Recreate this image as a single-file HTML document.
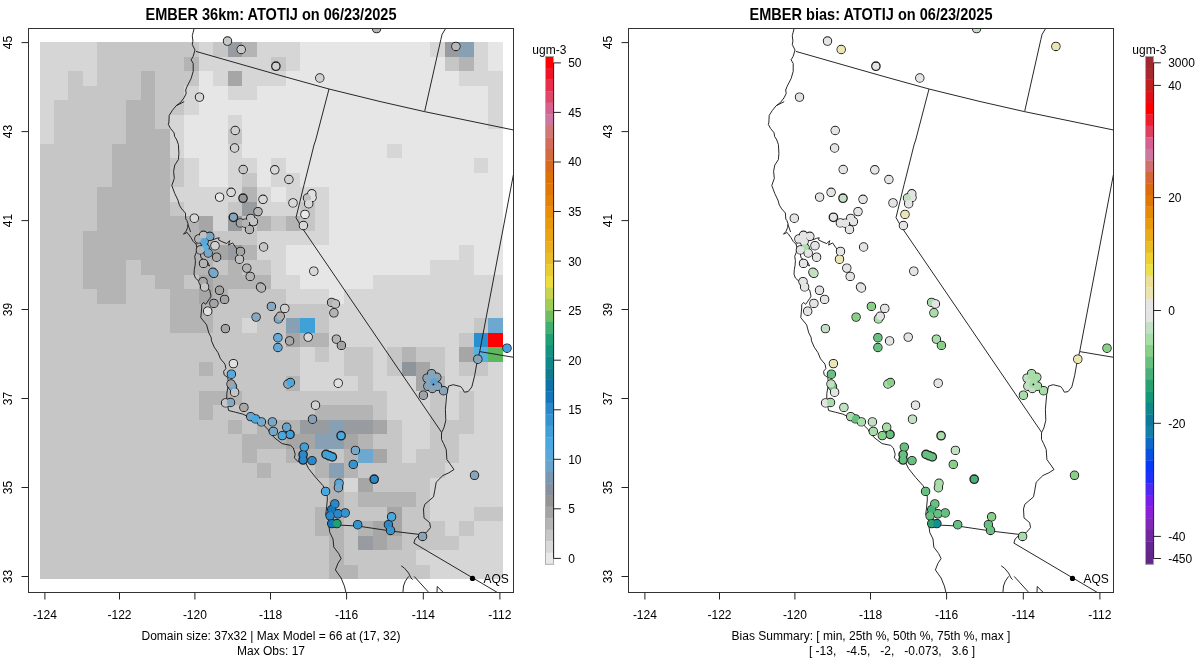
<!DOCTYPE html>
<html><head><meta charset="utf-8"><title>EMBER ATOTIJ</title>
<style>
html,body{margin:0;padding:0;background:#fff;width:1200px;height:672px;overflow:hidden}
svg{display:block}
text{font-family:"Liberation Sans",Arial,sans-serif;fill:#000}
.t{font-size:14.4px;font-weight:bold;text-anchor:middle}
.s{font-size:12px}
.k{stroke:#222;stroke-width:1}
.bx{fill:none;stroke:#333;stroke-width:1}
.m{fill:none;stroke:#1c1c1c;stroke-width:0.95;stroke-linejoin:round}
.c{stroke:#222;stroke-width:1.05}
.ct{stroke-width:1.6}
</style></head><body>
<svg width="1200" height="672" viewBox="0 0 1200 672">
<defs><clipPath id="pc"><rect x="28.5" y="28.5" width="485" height="564"/></clipPath></defs>
<rect width="1200" height="672" fill="#fff"/>
<g transform="translate(0,0)">
<text transform="translate(271,19.9) scale(1.01,1.09)" class="t">EMBER 36km: ATOTIJ on 06/23/2025</text>
<rect x="40" y="42" width="57" height="15" fill="#d6d6d6"/>
<rect x="97" y="42" width="102" height="15" fill="#c6c6c6"/>
<rect x="199" y="42" width="14" height="15" fill="#d6d6d6"/>
<rect x="213" y="42" width="15" height="15" fill="#c6c6c6"/>
<rect x="228" y="42" width="14" height="15" fill="#989ca0"/>
<rect x="242" y="42" width="15" height="15" fill="#b4b4b4"/>
<rect x="257" y="42" width="43" height="15" fill="#d6d6d6"/>
<rect x="300" y="42" width="130" height="15" fill="#e6e6e6"/>
<rect x="430" y="42" width="15" height="15" fill="#d6d6d6"/>
<rect x="445" y="42" width="14" height="15" fill="#989ca0"/>
<rect x="459" y="42" width="15" height="15" fill="#88a0b4"/>
<rect x="474" y="42" width="14" height="15" fill="#d6d6d6"/>
<rect x="488" y="42" width="15" height="15" fill="#e6e6e6"/>
<rect x="40" y="57" width="57" height="14" fill="#d6d6d6"/>
<rect x="97" y="57" width="87" height="14" fill="#c6c6c6"/>
<rect x="184" y="57" width="15" height="14" fill="#b4b4b4"/>
<rect x="199" y="57" width="72" height="14" fill="#d6d6d6"/>
<rect x="271" y="57" width="15" height="14" fill="#c6c6c6"/>
<rect x="286" y="57" width="14" height="14" fill="#d6d6d6"/>
<rect x="300" y="57" width="145" height="14" fill="#e6e6e6"/>
<rect x="445" y="57" width="14" height="14" fill="#c6c6c6"/>
<rect x="459" y="57" width="15" height="14" fill="#b4b4b4"/>
<rect x="474" y="57" width="14" height="14" fill="#d6d6d6"/>
<rect x="488" y="57" width="15" height="14" fill="#e6e6e6"/>
<rect x="40" y="71" width="28" height="15" fill="#d6d6d6"/>
<rect x="68" y="71" width="15" height="15" fill="#c6c6c6"/>
<rect x="83" y="71" width="14" height="15" fill="#d6d6d6"/>
<rect x="97" y="71" width="44" height="15" fill="#c6c6c6"/>
<rect x="141" y="71" width="14" height="15" fill="#b4b4b4"/>
<rect x="155" y="71" width="44" height="15" fill="#c6c6c6"/>
<rect x="199" y="71" width="14" height="15" fill="#e6e6e6"/>
<rect x="213" y="71" width="15" height="15" fill="#d6d6d6"/>
<rect x="228" y="71" width="14" height="15" fill="#a6a6a6"/>
<rect x="242" y="71" width="44" height="15" fill="#d6d6d6"/>
<rect x="286" y="71" width="173" height="15" fill="#e6e6e6"/>
<rect x="459" y="71" width="44" height="15" fill="#d6d6d6"/>
<rect x="40" y="86" width="28" height="14" fill="#d6d6d6"/>
<rect x="68" y="86" width="73" height="14" fill="#c6c6c6"/>
<rect x="141" y="86" width="14" height="14" fill="#b4b4b4"/>
<rect x="155" y="86" width="29" height="14" fill="#c6c6c6"/>
<rect x="184" y="86" width="15" height="14" fill="#d6d6d6"/>
<rect x="199" y="86" width="29" height="14" fill="#e6e6e6"/>
<rect x="228" y="86" width="29" height="14" fill="#d6d6d6"/>
<rect x="257" y="86" width="231" height="14" fill="#e6e6e6"/>
<rect x="488" y="86" width="15" height="14" fill="#d6d6d6"/>
<rect x="40" y="100" width="14" height="15" fill="#d6d6d6"/>
<rect x="54" y="100" width="72" height="15" fill="#c6c6c6"/>
<rect x="126" y="100" width="29" height="15" fill="#b4b4b4"/>
<rect x="155" y="100" width="29" height="15" fill="#c6c6c6"/>
<rect x="184" y="100" width="15" height="15" fill="#d6d6d6"/>
<rect x="199" y="100" width="289" height="15" fill="#e6e6e6"/>
<rect x="488" y="100" width="15" height="15" fill="#d6d6d6"/>
<rect x="40" y="115" width="14" height="14" fill="#d6d6d6"/>
<rect x="54" y="115" width="72" height="14" fill="#c6c6c6"/>
<rect x="126" y="115" width="29" height="14" fill="#b4b4b4"/>
<rect x="155" y="115" width="15" height="14" fill="#c6c6c6"/>
<rect x="170" y="115" width="14" height="14" fill="#d6d6d6"/>
<rect x="184" y="115" width="44" height="14" fill="#e6e6e6"/>
<rect x="228" y="115" width="14" height="14" fill="#d6d6d6"/>
<rect x="242" y="115" width="246" height="14" fill="#e6e6e6"/>
<rect x="488" y="115" width="15" height="14" fill="#d6d6d6"/>
<rect x="40" y="129" width="14" height="15" fill="#d6d6d6"/>
<rect x="54" y="129" width="72" height="15" fill="#c6c6c6"/>
<rect x="126" y="129" width="44" height="15" fill="#b4b4b4"/>
<rect x="170" y="129" width="14" height="15" fill="#d6d6d6"/>
<rect x="184" y="129" width="44" height="15" fill="#e6e6e6"/>
<rect x="228" y="129" width="14" height="15" fill="#c6c6c6"/>
<rect x="242" y="129" width="261" height="15" fill="#e6e6e6"/>
<rect x="40" y="144" width="72" height="14" fill="#c6c6c6"/>
<rect x="112" y="144" width="58" height="14" fill="#b4b4b4"/>
<rect x="170" y="144" width="14" height="14" fill="#d6d6d6"/>
<rect x="184" y="144" width="44" height="14" fill="#e6e6e6"/>
<rect x="228" y="144" width="14" height="14" fill="#d6d6d6"/>
<rect x="242" y="144" width="145" height="14" fill="#e6e6e6"/>
<rect x="387" y="144" width="15" height="14" fill="#d6d6d6"/>
<rect x="402" y="144" width="101" height="14" fill="#e6e6e6"/>
<rect x="40" y="158" width="72" height="15" fill="#c6c6c6"/>
<rect x="112" y="158" width="58" height="15" fill="#b4b4b4"/>
<rect x="170" y="158" width="14" height="15" fill="#c6c6c6"/>
<rect x="184" y="158" width="15" height="15" fill="#d6d6d6"/>
<rect x="199" y="158" width="29" height="15" fill="#e6e6e6"/>
<rect x="228" y="158" width="29" height="15" fill="#d6d6d6"/>
<rect x="257" y="158" width="14" height="15" fill="#e6e6e6"/>
<rect x="271" y="158" width="15" height="15" fill="#d6d6d6"/>
<rect x="286" y="158" width="188" height="15" fill="#e6e6e6"/>
<rect x="474" y="158" width="14" height="15" fill="#d6d6d6"/>
<rect x="488" y="158" width="15" height="15" fill="#e6e6e6"/>
<rect x="40" y="173" width="72" height="14" fill="#c6c6c6"/>
<rect x="112" y="173" width="58" height="14" fill="#b4b4b4"/>
<rect x="170" y="173" width="14" height="14" fill="#c6c6c6"/>
<rect x="184" y="173" width="15" height="14" fill="#d6d6d6"/>
<rect x="199" y="173" width="29" height="14" fill="#e6e6e6"/>
<rect x="228" y="173" width="14" height="14" fill="#d6d6d6"/>
<rect x="242" y="173" width="15" height="14" fill="#c6c6c6"/>
<rect x="257" y="173" width="14" height="14" fill="#e6e6e6"/>
<rect x="271" y="173" width="29" height="14" fill="#d6d6d6"/>
<rect x="300" y="173" width="203" height="14" fill="#e6e6e6"/>
<rect x="40" y="187" width="57" height="15" fill="#c6c6c6"/>
<rect x="97" y="187" width="73" height="15" fill="#b4b4b4"/>
<rect x="170" y="187" width="72" height="15" fill="#d6d6d6"/>
<rect x="242" y="187" width="15" height="15" fill="#b4b4b4"/>
<rect x="257" y="187" width="14" height="15" fill="#d6d6d6"/>
<rect x="271" y="187" width="15" height="15" fill="#e6e6e6"/>
<rect x="286" y="187" width="43" height="15" fill="#d6d6d6"/>
<rect x="329" y="187" width="174" height="15" fill="#e6e6e6"/>
<rect x="40" y="202" width="57" height="14" fill="#c6c6c6"/>
<rect x="97" y="202" width="73" height="14" fill="#b4b4b4"/>
<rect x="170" y="202" width="14" height="14" fill="#c6c6c6"/>
<rect x="184" y="202" width="44" height="14" fill="#d6d6d6"/>
<rect x="228" y="202" width="14" height="14" fill="#c6c6c6"/>
<rect x="242" y="202" width="15" height="14" fill="#989ca0"/>
<rect x="257" y="202" width="43" height="14" fill="#d6d6d6"/>
<rect x="300" y="202" width="15" height="14" fill="#c6c6c6"/>
<rect x="315" y="202" width="14" height="14" fill="#d6d6d6"/>
<rect x="329" y="202" width="174" height="14" fill="#e6e6e6"/>
<rect x="40" y="216" width="57" height="15" fill="#c6c6c6"/>
<rect x="97" y="216" width="102" height="15" fill="#b4b4b4"/>
<rect x="199" y="216" width="14" height="15" fill="#a6a6a6"/>
<rect x="213" y="216" width="15" height="15" fill="#d6d6d6"/>
<rect x="228" y="216" width="14" height="15" fill="#989ca0"/>
<rect x="242" y="216" width="15" height="15" fill="#c6c6c6"/>
<rect x="257" y="216" width="14" height="15" fill="#b4b4b4"/>
<rect x="271" y="216" width="15" height="15" fill="#c6c6c6"/>
<rect x="286" y="216" width="14" height="15" fill="#b4b4b4"/>
<rect x="300" y="216" width="15" height="15" fill="#c6c6c6"/>
<rect x="315" y="216" width="14" height="15" fill="#d6d6d6"/>
<rect x="329" y="216" width="174" height="15" fill="#e6e6e6"/>
<rect x="40" y="231" width="43" height="14" fill="#c6c6c6"/>
<rect x="83" y="231" width="130" height="14" fill="#b4b4b4"/>
<rect x="213" y="231" width="44" height="14" fill="#c6c6c6"/>
<rect x="257" y="231" width="72" height="14" fill="#d6d6d6"/>
<rect x="329" y="231" width="174" height="14" fill="#e6e6e6"/>
<rect x="40" y="245" width="43" height="15" fill="#c6c6c6"/>
<rect x="83" y="245" width="130" height="15" fill="#b4b4b4"/>
<rect x="213" y="245" width="15" height="15" fill="#a6a6a6"/>
<rect x="228" y="245" width="14" height="15" fill="#989ca0"/>
<rect x="242" y="245" width="15" height="15" fill="#b4b4b4"/>
<rect x="257" y="245" width="29" height="15" fill="#d6d6d6"/>
<rect x="286" y="245" width="173" height="15" fill="#e6e6e6"/>
<rect x="459" y="245" width="15" height="15" fill="#d6d6d6"/>
<rect x="474" y="245" width="29" height="15" fill="#e6e6e6"/>
<rect x="40" y="260" width="43" height="15" fill="#c6c6c6"/>
<rect x="83" y="260" width="43" height="15" fill="#b4b4b4"/>
<rect x="126" y="260" width="15" height="15" fill="#c6c6c6"/>
<rect x="141" y="260" width="72" height="15" fill="#b4b4b4"/>
<rect x="213" y="260" width="15" height="15" fill="#c6c6c6"/>
<rect x="228" y="260" width="14" height="15" fill="#b4b4b4"/>
<rect x="242" y="260" width="29" height="15" fill="#c6c6c6"/>
<rect x="271" y="260" width="15" height="15" fill="#d6d6d6"/>
<rect x="286" y="260" width="144" height="15" fill="#e6e6e6"/>
<rect x="430" y="260" width="44" height="15" fill="#d6d6d6"/>
<rect x="474" y="260" width="29" height="15" fill="#e6e6e6"/>
<rect x="40" y="275" width="43" height="14" fill="#c6c6c6"/>
<rect x="83" y="275" width="43" height="14" fill="#b4b4b4"/>
<rect x="126" y="275" width="29" height="14" fill="#c6c6c6"/>
<rect x="155" y="275" width="29" height="14" fill="#b4b4b4"/>
<rect x="184" y="275" width="15" height="14" fill="#c6c6c6"/>
<rect x="199" y="275" width="14" height="14" fill="#a6a6a6"/>
<rect x="213" y="275" width="58" height="14" fill="#b4b4b4"/>
<rect x="271" y="275" width="29" height="14" fill="#d6d6d6"/>
<rect x="300" y="275" width="73" height="14" fill="#e6e6e6"/>
<rect x="373" y="275" width="130" height="14" fill="#d6d6d6"/>
<rect x="40" y="289" width="57" height="15" fill="#c6c6c6"/>
<rect x="97" y="289" width="29" height="15" fill="#b4b4b4"/>
<rect x="126" y="289" width="44" height="15" fill="#c6c6c6"/>
<rect x="170" y="289" width="29" height="15" fill="#b4b4b4"/>
<rect x="199" y="289" width="14" height="15" fill="#a6a6a6"/>
<rect x="213" y="289" width="15" height="15" fill="#b4b4b4"/>
<rect x="228" y="289" width="58" height="15" fill="#c6c6c6"/>
<rect x="286" y="289" width="43" height="15" fill="#d6d6d6"/>
<rect x="329" y="289" width="15" height="15" fill="#e6e6e6"/>
<rect x="344" y="289" width="159" height="15" fill="#d6d6d6"/>
<rect x="40" y="304" width="130" height="14" fill="#c6c6c6"/>
<rect x="170" y="304" width="43" height="14" fill="#b4b4b4"/>
<rect x="213" y="304" width="116" height="14" fill="#c6c6c6"/>
<rect x="329" y="304" width="174" height="14" fill="#d6d6d6"/>
<rect x="40" y="318" width="130" height="15" fill="#c6c6c6"/>
<rect x="170" y="318" width="43" height="15" fill="#b4b4b4"/>
<rect x="213" y="318" width="29" height="15" fill="#c6c6c6"/>
<rect x="242" y="318" width="15" height="15" fill="#d6d6d6"/>
<rect x="257" y="318" width="29" height="15" fill="#c6c6c6"/>
<rect x="286" y="318" width="14" height="15" fill="#88a0b4"/>
<rect x="300" y="318" width="15" height="15" fill="#40a0d8"/>
<rect x="315" y="318" width="14" height="15" fill="#c6c6c6"/>
<rect x="329" y="318" width="145" height="15" fill="#d6d6d6"/>
<rect x="474" y="318" width="14" height="15" fill="#c6c6c6"/>
<rect x="488" y="318" width="15" height="15" fill="#6ca8d0"/>
<rect x="40" y="333" width="246" height="14" fill="#c6c6c6"/>
<rect x="286" y="333" width="14" height="14" fill="#a6a6a6"/>
<rect x="300" y="333" width="29" height="14" fill="#b4b4b4"/>
<rect x="329" y="333" width="130" height="14" fill="#d6d6d6"/>
<rect x="459" y="333" width="15" height="14" fill="#c6c6c6"/>
<rect x="474" y="333" width="14" height="14" fill="#2890d0"/>
<rect x="488" y="333" width="15" height="14" fill="#ff0000"/>
<rect x="40" y="347" width="260" height="15" fill="#c6c6c6"/>
<rect x="300" y="347" width="15" height="15" fill="#d6d6d6"/>
<rect x="315" y="347" width="14" height="15" fill="#c6c6c6"/>
<rect x="329" y="347" width="15" height="15" fill="#d6d6d6"/>
<rect x="344" y="347" width="29" height="15" fill="#c6c6c6"/>
<rect x="373" y="347" width="14" height="15" fill="#d6d6d6"/>
<rect x="387" y="347" width="15" height="15" fill="#c6c6c6"/>
<rect x="402" y="347" width="14" height="15" fill="#b4b4b4"/>
<rect x="416" y="347" width="29" height="15" fill="#c6c6c6"/>
<rect x="445" y="347" width="14" height="15" fill="#d6d6d6"/>
<rect x="459" y="347" width="15" height="15" fill="#a6a6a6"/>
<rect x="474" y="347" width="14" height="15" fill="#58b0e0"/>
<rect x="488" y="347" width="15" height="15" fill="#5cb85c"/>
<rect x="40" y="362" width="159" height="14" fill="#c6c6c6"/>
<rect x="199" y="362" width="14" height="14" fill="#b4b4b4"/>
<rect x="213" y="362" width="87" height="14" fill="#c6c6c6"/>
<rect x="300" y="362" width="44" height="14" fill="#d6d6d6"/>
<rect x="344" y="362" width="29" height="14" fill="#c6c6c6"/>
<rect x="373" y="362" width="14" height="14" fill="#d6d6d6"/>
<rect x="387" y="362" width="15" height="14" fill="#c6c6c6"/>
<rect x="402" y="362" width="14" height="14" fill="#8e959b"/>
<rect x="416" y="362" width="14" height="14" fill="#a6a6a6"/>
<rect x="430" y="362" width="15" height="14" fill="#c6c6c6"/>
<rect x="445" y="362" width="14" height="14" fill="#d6d6d6"/>
<rect x="459" y="362" width="29" height="14" fill="#c6c6c6"/>
<rect x="488" y="362" width="15" height="14" fill="#d6d6d6"/>
<rect x="40" y="376" width="246" height="15" fill="#c6c6c6"/>
<rect x="286" y="376" width="14" height="15" fill="#b4b4b4"/>
<rect x="300" y="376" width="58" height="15" fill="#d6d6d6"/>
<rect x="358" y="376" width="15" height="15" fill="#c6c6c6"/>
<rect x="373" y="376" width="43" height="15" fill="#d6d6d6"/>
<rect x="416" y="376" width="14" height="15" fill="#a6a6a6"/>
<rect x="430" y="376" width="15" height="15" fill="#b4b4b4"/>
<rect x="445" y="376" width="58" height="15" fill="#d6d6d6"/>
<rect x="40" y="391" width="159" height="14" fill="#c6c6c6"/>
<rect x="199" y="391" width="43" height="14" fill="#b4b4b4"/>
<rect x="242" y="391" width="145" height="14" fill="#c6c6c6"/>
<rect x="387" y="391" width="43" height="14" fill="#d6d6d6"/>
<rect x="430" y="391" width="15" height="14" fill="#c6c6c6"/>
<rect x="445" y="391" width="14" height="14" fill="#d6d6d6"/>
<rect x="459" y="391" width="15" height="14" fill="#c6c6c6"/>
<rect x="474" y="391" width="29" height="14" fill="#d6d6d6"/>
<rect x="40" y="405" width="159" height="15" fill="#c6c6c6"/>
<rect x="199" y="405" width="14" height="15" fill="#b4b4b4"/>
<rect x="213" y="405" width="102" height="15" fill="#c6c6c6"/>
<rect x="315" y="405" width="58" height="15" fill="#b4b4b4"/>
<rect x="373" y="405" width="14" height="15" fill="#c6c6c6"/>
<rect x="387" y="405" width="43" height="15" fill="#d6d6d6"/>
<rect x="430" y="405" width="15" height="15" fill="#c6c6c6"/>
<rect x="445" y="405" width="14" height="15" fill="#d6d6d6"/>
<rect x="459" y="405" width="15" height="15" fill="#c6c6c6"/>
<rect x="474" y="405" width="29" height="15" fill="#d6d6d6"/>
<rect x="40" y="420" width="188" height="14" fill="#c6c6c6"/>
<rect x="228" y="420" width="14" height="14" fill="#b4b4b4"/>
<rect x="242" y="420" width="15" height="14" fill="#c6c6c6"/>
<rect x="257" y="420" width="43" height="14" fill="#b4b4b4"/>
<rect x="300" y="420" width="29" height="14" fill="#989ca0"/>
<rect x="329" y="420" width="15" height="14" fill="#88a0b4"/>
<rect x="344" y="420" width="29" height="14" fill="#989ca0"/>
<rect x="373" y="420" width="14" height="14" fill="#a6a6a6"/>
<rect x="387" y="420" width="15" height="14" fill="#c6c6c6"/>
<rect x="402" y="420" width="28" height="14" fill="#d6d6d6"/>
<rect x="430" y="420" width="44" height="14" fill="#c6c6c6"/>
<rect x="474" y="420" width="29" height="14" fill="#d6d6d6"/>
<rect x="40" y="434" width="202" height="15" fill="#c6c6c6"/>
<rect x="242" y="434" width="44" height="15" fill="#b4b4b4"/>
<rect x="286" y="434" width="29" height="15" fill="#a6a6a6"/>
<rect x="315" y="434" width="29" height="15" fill="#88a0b4"/>
<rect x="344" y="434" width="14" height="15" fill="#a6a6a6"/>
<rect x="358" y="434" width="15" height="15" fill="#b4b4b4"/>
<rect x="373" y="434" width="29" height="15" fill="#c6c6c6"/>
<rect x="402" y="434" width="28" height="15" fill="#d6d6d6"/>
<rect x="430" y="434" width="29" height="15" fill="#c6c6c6"/>
<rect x="459" y="434" width="44" height="15" fill="#d6d6d6"/>
<rect x="40" y="449" width="202" height="14" fill="#c6c6c6"/>
<rect x="242" y="449" width="15" height="14" fill="#b4b4b4"/>
<rect x="257" y="449" width="29" height="14" fill="#c6c6c6"/>
<rect x="286" y="449" width="43" height="14" fill="#b4b4b4"/>
<rect x="329" y="449" width="15" height="14" fill="#c6c6c6"/>
<rect x="344" y="449" width="14" height="14" fill="#b4b4b4"/>
<rect x="358" y="449" width="15" height="14" fill="#6ca8d0"/>
<rect x="373" y="449" width="14" height="14" fill="#a6a6a6"/>
<rect x="387" y="449" width="15" height="14" fill="#c6c6c6"/>
<rect x="402" y="449" width="14" height="14" fill="#d6d6d6"/>
<rect x="416" y="449" width="43" height="14" fill="#c6c6c6"/>
<rect x="459" y="449" width="44" height="14" fill="#d6d6d6"/>
<rect x="40" y="463" width="217" height="15" fill="#c6c6c6"/>
<rect x="257" y="463" width="14" height="15" fill="#b4b4b4"/>
<rect x="271" y="463" width="44" height="15" fill="#c6c6c6"/>
<rect x="315" y="463" width="14" height="15" fill="#b4b4b4"/>
<rect x="329" y="463" width="15" height="15" fill="#88a0b4"/>
<rect x="344" y="463" width="14" height="15" fill="#b4b4b4"/>
<rect x="358" y="463" width="87" height="15" fill="#c6c6c6"/>
<rect x="445" y="463" width="58" height="15" fill="#d6d6d6"/>
<rect x="40" y="478" width="289" height="14" fill="#c6c6c6"/>
<rect x="329" y="478" width="15" height="14" fill="#b4b4b4"/>
<rect x="344" y="478" width="14" height="14" fill="#d6d6d6"/>
<rect x="358" y="478" width="15" height="14" fill="#a6a6a6"/>
<rect x="373" y="478" width="57" height="14" fill="#c6c6c6"/>
<rect x="430" y="478" width="73" height="14" fill="#d6d6d6"/>
<rect x="40" y="492" width="289" height="15" fill="#c6c6c6"/>
<rect x="329" y="492" width="15" height="15" fill="#b4b4b4"/>
<rect x="344" y="492" width="14" height="15" fill="#c6c6c6"/>
<rect x="358" y="492" width="58" height="15" fill="#b4b4b4"/>
<rect x="416" y="492" width="14" height="15" fill="#c6c6c6"/>
<rect x="430" y="492" width="73" height="15" fill="#d6d6d6"/>
<rect x="40" y="507" width="275" height="14" fill="#c6c6c6"/>
<rect x="315" y="507" width="29" height="14" fill="#b4b4b4"/>
<rect x="344" y="507" width="43" height="14" fill="#c6c6c6"/>
<rect x="387" y="507" width="15" height="14" fill="#a6a6a6"/>
<rect x="402" y="507" width="28" height="14" fill="#c6c6c6"/>
<rect x="430" y="507" width="44" height="14" fill="#d6d6d6"/>
<rect x="474" y="507" width="29" height="14" fill="#c6c6c6"/>
<rect x="40" y="521" width="275" height="15" fill="#c6c6c6"/>
<rect x="315" y="521" width="29" height="15" fill="#b4b4b4"/>
<rect x="344" y="521" width="14" height="15" fill="#c6c6c6"/>
<rect x="358" y="521" width="15" height="15" fill="#b4b4b4"/>
<rect x="373" y="521" width="29" height="15" fill="#a6a6a6"/>
<rect x="402" y="521" width="43" height="15" fill="#c6c6c6"/>
<rect x="445" y="521" width="14" height="15" fill="#d6d6d6"/>
<rect x="459" y="521" width="15" height="15" fill="#c6c6c6"/>
<rect x="474" y="521" width="29" height="15" fill="#d6d6d6"/>
<rect x="40" y="536" width="289" height="14" fill="#c6c6c6"/>
<rect x="329" y="536" width="15" height="14" fill="#b4b4b4"/>
<rect x="344" y="536" width="14" height="14" fill="#c6c6c6"/>
<rect x="358" y="536" width="15" height="14" fill="#989ca0"/>
<rect x="373" y="536" width="14" height="14" fill="#a6a6a6"/>
<rect x="387" y="536" width="15" height="14" fill="#b4b4b4"/>
<rect x="402" y="536" width="57" height="14" fill="#c6c6c6"/>
<rect x="459" y="536" width="44" height="14" fill="#d6d6d6"/>
<rect x="40" y="550" width="289" height="15" fill="#c6c6c6"/>
<rect x="329" y="550" width="15" height="15" fill="#b4b4b4"/>
<rect x="344" y="550" width="72" height="15" fill="#c6c6c6"/>
<rect x="416" y="550" width="87" height="15" fill="#d6d6d6"/>
<rect x="40" y="565" width="289" height="14" fill="#c6c6c6"/>
<rect x="329" y="565" width="29" height="14" fill="#b4b4b4"/>
<rect x="358" y="565" width="72" height="14" fill="#c6c6c6"/>
<rect x="430" y="565" width="73" height="14" fill="#d6d6d6"/>
<g clip-path="url(#pc)">
<polyline points="194.1,28.6 193.2,32.1 192.3,35.7 192.9,41.1 192.3,44.6 195.0,50.0 193.2,56.3 191.1,59.8 193.2,63.4 193.2,71.4 191.1,78.6 187.0,86.6 185.7,90.0 186.2,93.6 183.9,98.0 180.4,102.5 176.3,105.6 172.3,110.5 169.2,115.4 168.9,122.1 168.3,124.4 170.5,128.4 174.1,132.9 174.6,136.4 176.8,140.0 178.4,144.5 178.9,153.4 178.4,159.6 174.8,165.0 173.6,171.3 174.3,178.4 171.8,185.5 174.8,193.6 177.9,200.0 179.4,205.2 181.7,208.9 185.4,213.0 185.8,219.0 186.9,220.5 188.0,223.8 187.6,227.5 186.1,231.2 183.5,234.2 186.9,232.5 188.0,233.5 191.0,237.7 193.2,241.4 196.2,244.4 197.0,248.0 196.2,252.6 194.7,256.3 195.4,260.7 195.1,265.2 194.3,269.7 194.0,274.1 195.4,278.0 199.6,281.8 205.0,287.1 209.7,290.0 211.0,296.2 209.7,298.5 205.7,304.3 203.5,302.5 201.7,304.7 201.7,307.9 200.8,317.7 206.6,324.8 208.8,332.9 211.1,337.3 211.5,340.9 214.2,347.1 217.9,352.5 220.5,358.8 225.0,364.1 225.9,368.6 223.6,371.3 224.1,374.8 227.7,377.5 228.6,382.9 227.7,388.2 226.8,393.6 226.8,398.9 225.0,403.4 227.7,406.1 228.6,410.5 235.7,412.3 242.9,414.1 248.2,416.8 255.4,420.4 262.5,423.9 267.9,429.3 270.5,433.8 275.0,438.2 282.1,443.6 290.7,445.4 293.4,448.0 295.2,454.3 294.3,457.9 297.9,461.4 305.9,463.2 308.6,468.6 315.7,477.5 322.9,485.5 326.4,491.8 327.3,497.1 327.3,500.0 326.5,508.1 325.7,514.6 328.9,519.5 329.1,523.9 328.9,526.0 329.8,532.5 333.0,539.0 333.8,547.1 338.7,553.6 341.1,558.5 337.9,563.4 335.4,569.9 341.1,578.0 344.4,586.1 346.0,592.6" class="m"/>
<polyline points="196.2,244.4 199.0,241.0 200.0,236.0 203.0,233.0 206.0,232.5 210.0,235.0 212.6,239.9 216.3,238.4 219.2,237.7 218.5,239.9 223.0,242.1 226.7,243.6 229.7,240.6 228.6,245.1 232.6,242.9 235.6,247.3 238.0,250.3" class="m"/>
<polyline points="197.0,248.0 200.3,254.0 201.0,257.8 204.4,260.0 207.7,262.2 209.6,266.0 208.1,265.2" class="m"/>
<polyline points="188.0,224.6 190.6,232.0" class="m"/>
<polyline points="195.9,51.4 240.0,64.0 280.0,75.4 290.0,78.2 329.0,89.0 380.0,101.5 424.4,111.6 470.0,121.0 513.6,130.0" class="m"/>
<polyline points="329.0,89.0 315.7,140.0 314.0,145.0 308.6,166.8 304.1,184.6 296.0,217.6 300.6,225.7 441.7,432.5" class="m"/>
<polyline points="424.7,111.3 440.8,39.7 442.1,34.4 445.5,28.7" class="m"/>
<polyline points="513.4,174.7 483.8,330.0 479.7,351.6" class="m"/>
<polyline points="479.7,351.6 513.6,357.3" class="m"/>
<polyline points="479.7,351.6 477.4,360.0 474.6,375.8 471.8,387.0 468.1,391.6 464.4,392.2 462.5,388.8 460.7,386.6 453.2,384.7 448.6,386.0 446.7,394.4 445.4,409.3 445.8,420.4 443.9,427.9 442.1,431.6 441.5,432.7 441.5,439.4 443.5,443.4 446.2,449.4 446.9,459.5 450.2,464.1 454.0,469.5 448.9,472.8 442.9,475.5 436.2,482.2 434.8,490.2 433.5,496.9 428.8,500.9 424.8,504.3 423.5,509.0 424.0,517.9 429.7,522.7 430.5,527.6 426.4,532.5 419.4,534.9 415.1,539.0 413.9,543.1" class="m"/>
<polyline points="329.1,523.9 341.1,525.2 357.4,526.0 385.0,530.1 389.9,530.9 419.1,534.4" class="m"/>
<polyline points="413.9,543.1 497.6,592.6" class="m"/>
<polyline points="401.2,565.8 404.5,568.2 408.6,573.1 411.0,578.0 412.6,579.6" class="m"/>
<polyline points="408.6,576.4 405.3,581.2 403.5,586.0 402.9,592.6" class="m"/>
<polyline points="414.2,576.4 428.9,592.6" class="m"/>
<polyline points="437.0,592.6 437.2,586.5 443.5,592.6" class="m"/>
<polyline points="176.3,105.6 180.0,103.8 184.2,101.6" class="m"/>
<circle cx="227.5" cy="41.1" r="4.2" fill="#c8c8c8" class="c"/>
<circle cx="241.2" cy="49.5" r="4.2" fill="#c8c8c8" class="c"/>
<circle cx="275.9" cy="66.2" r="4.05" fill="#d0d0d0" class="c ct"/>
<circle cx="199.5" cy="97.1" r="4.2" fill="#d8d8d8" class="c"/>
<circle cx="235.2" cy="130.5" r="4.2" fill="#d0d0d0" class="c"/>
<circle cx="376.6" cy="28.6" r="4.2" fill="#b4b4b4" class="c"/>
<circle cx="455.9" cy="46.4" r="4.2" fill="#b8b8b8" class="c"/>
<circle cx="319.8" cy="78.0" r="4.2" fill="#d0d0d0" class="c"/>
<circle cx="234.6" cy="148.0" r="4.2" fill="#d0d0d0" class="c"/>
<circle cx="243.2" cy="169.5" r="4.2" fill="#c6c6c6" class="c"/>
<circle cx="274.8" cy="169.8" r="4.2" fill="#d8d8d8" class="c"/>
<circle cx="288.9" cy="179.5" r="4.2" fill="#d0d0d0" class="c"/>
<circle cx="231.1" cy="192.3" r="4.2" fill="#d8d8d8" class="c"/>
<circle cx="219.6" cy="197.1" r="4.2" fill="#e8e8e8" class="c"/>
<circle cx="243.0" cy="198.2" r="4.05" fill="#989898" class="c ct"/>
<circle cx="263.0" cy="199.3" r="4.2" fill="#d8d8d8" class="c"/>
<circle cx="293.0" cy="202.9" r="4.2" fill="#d8d8d8" class="c"/>
<circle cx="258.0" cy="211.6" r="4.2" fill="#b4b4b4" class="c"/>
<circle cx="194.3" cy="218.2" r="4.2" fill="#d8d8d8" class="c"/>
<circle cx="233.4" cy="217.3" r="4.05" fill="#8aa4bc" class="c ct"/>
<circle cx="250.7" cy="218.4" r="4.2" fill="#c0c0c0" class="c"/>
<circle cx="253.4" cy="221.6" r="4.2" fill="#c6c6c6" class="c"/>
<circle cx="240.4" cy="222.9" r="4.2" fill="#a4a4a4" class="c"/>
<circle cx="245.4" cy="223.2" r="4.2" fill="#b4b4b4" class="c"/>
<circle cx="249.5" cy="229.5" r="4.2" fill="#b4b4b4" class="c"/>
<circle cx="305.0" cy="214.4" r="4.2" fill="#e8e8e8" class="c"/>
<circle cx="303.4" cy="225.5" r="4.2" fill="#d8d8d8" class="c"/>
<circle cx="311.8" cy="193.8" r="4.2" fill="#e0e0e0" class="c"/>
<circle cx="312.0" cy="197.5" r="4.2" fill="#e0e0e0" class="c"/>
<circle cx="307.5" cy="198.0" r="4.2" fill="#c0c0c0" class="c"/>
<circle cx="308.7" cy="203.7" r="4.2" fill="#d8d8d8" class="c"/>
<circle cx="198.9" cy="238.9" r="4.2" fill="#b4b4b4" class="c"/>
<circle cx="203.5" cy="235.3" r="4.2" fill="#c0c0c0" class="c"/>
<circle cx="209.8" cy="236.3" r="4.2" fill="#78a8c8" class="c"/>
<circle cx="204.1" cy="241.5" r="4.2" fill="#58a8dc" class="c"/>
<circle cx="205.1" cy="247.8" r="4.2" fill="#58b0e0" class="c"/>
<circle cx="200.4" cy="249.9" r="4.2" fill="#b4b4b4" class="c"/>
<circle cx="208.2" cy="253.0" r="4.2" fill="#78a8c8" class="c"/>
<circle cx="215.0" cy="245.7" r="4.2" fill="#d0d0d0" class="c"/>
<circle cx="216.6" cy="257.2" r="4.2" fill="#a8a8a8" class="c"/>
<circle cx="203.5" cy="263.4" r="4.2" fill="#b4b4b4" class="c"/>
<circle cx="212.9" cy="272.3" r="4.2" fill="#78a8c8" class="c"/>
<circle cx="213.9" cy="273.3" r="4.2" fill="#78a8c8" class="c"/>
<circle cx="240.5" cy="251.4" r="4.2" fill="#a4a4a4" class="c"/>
<circle cx="239.5" cy="259.2" r="4.2" fill="#c0c0c0" class="c"/>
<circle cx="246.8" cy="268.1" r="4.2" fill="#b4b4b4" class="c"/>
<circle cx="250.2" cy="276.4" r="4.2" fill="#b4b4b4" class="c"/>
<circle cx="203.0" cy="281.6" r="4.2" fill="#a8a8a8" class="c"/>
<circle cx="204.6" cy="286.9" r="4.2" fill="#c6c6c6" class="c"/>
<circle cx="219.5" cy="290.3" r="4.2" fill="#a4a4a4" class="c"/>
<circle cx="224.6" cy="299.4" r="4.2" fill="#a2a4a8" class="c"/>
<circle cx="213.9" cy="303.4" r="4.2" fill="#a2a4a8" class="c"/>
<circle cx="207.7" cy="311.2" r="4.2" fill="#e0e0e0" class="c"/>
<circle cx="225.4" cy="328.6" r="4.2" fill="#a2a4a8" class="c"/>
<circle cx="263.6" cy="247.0" r="4.2" fill="#c6c6c6" class="c"/>
<circle cx="313.8" cy="271.2" r="4.2" fill="#d8d8d8" class="c"/>
<circle cx="260.5" cy="287.0" r="4.2" fill="#b4b4b4" class="c"/>
<circle cx="261.5" cy="288.0" r="4.2" fill="#b4b4b4" class="c"/>
<circle cx="271.4" cy="306.4" r="4.2" fill="#88a8c0" class="c"/>
<circle cx="284.8" cy="308.4" r="4.2" fill="#d0d0d0" class="c"/>
<circle cx="278.4" cy="318.9" r="4.2" fill="#78a8c8" class="c"/>
<circle cx="280.2" cy="316.3" r="4.2" fill="#b0b0b0" class="c"/>
<circle cx="256.1" cy="317.1" r="4.2" fill="#88a8c0" class="c"/>
<circle cx="331.6" cy="302.4" r="4.2" fill="#b4b4b4" class="c"/>
<circle cx="335.4" cy="303.9" r="4.2" fill="#c0c0c0" class="c"/>
<circle cx="333.9" cy="312.8" r="4.2" fill="#b4b4b4" class="c"/>
<circle cx="277.9" cy="337.7" r="4.2" fill="#64a8d8" class="c"/>
<circle cx="289.6" cy="340.9" r="4.2" fill="#a8a8a8" class="c"/>
<circle cx="277.9" cy="347.5" r="4.2" fill="#64a8d8" class="c"/>
<circle cx="308.2" cy="337.1" r="4.2" fill="#d8d8d8" class="c"/>
<circle cx="336.4" cy="339.1" r="4.2" fill="#b4b4b4" class="c"/>
<circle cx="341.4" cy="345.4" r="4.2" fill="#a4a4a4" class="c"/>
<circle cx="233.4" cy="363.6" r="4.2" fill="#e0e0e0" class="c"/>
<circle cx="231.4" cy="374.2" r="4.2" fill="#58a8dc" class="c"/>
<circle cx="232.5" cy="386.5" r="4.2" fill="#58a8dc" class="c"/>
<circle cx="231.0" cy="384.0" r="4.2" fill="#a2a4a8" class="c"/>
<circle cx="234.6" cy="392.2" r="4.2" fill="#c6c6c6" class="c"/>
<circle cx="225.6" cy="402.9" r="4.2" fill="#c6c6c6" class="c"/>
<circle cx="230.5" cy="402.5" r="4.2" fill="#88a8c0" class="c"/>
<circle cx="287.9" cy="384.0" r="4.2" fill="#88a8c0" class="c"/>
<circle cx="290.4" cy="382.5" r="4.2" fill="#48a8e0" class="c"/>
<circle cx="338.2" cy="383.2" r="4.2" fill="#e0e0e0" class="c"/>
<circle cx="315.5" cy="405.2" r="4.2" fill="#d0d0d0" class="c"/>
<circle cx="312.5" cy="419.2" r="4.2" fill="#88a0b4" class="c"/>
<circle cx="243.9" cy="407.4" r="4.2" fill="#a8a8a8" class="c"/>
<circle cx="250.7" cy="416.6" r="4.2" fill="#68a4cc" class="c"/>
<circle cx="255.5" cy="418.9" r="4.2" fill="#48a8e0" class="c"/>
<circle cx="261.4" cy="421.9" r="4.2" fill="#78a8c8" class="c"/>
<circle cx="272.4" cy="421.9" r="4.2" fill="#78a8c8" class="c"/>
<circle cx="273.3" cy="431.4" r="4.2" fill="#78a8c8" class="c"/>
<circle cx="286.7" cy="427.3" r="4.2" fill="#68a4cc" class="c"/>
<circle cx="282.3" cy="435.6" r="4.2" fill="#48a8e0" class="c"/>
<circle cx="290.0" cy="434.4" r="4.05" fill="#40a0d8" class="c ct"/>
<circle cx="304.3" cy="447.1" r="4.2" fill="#40a0d8" class="c"/>
<circle cx="303.1" cy="454.6" r="4.05" fill="#2888c8" class="c ct"/>
<circle cx="303.1" cy="460.0" r="4.05" fill="#2888c8" class="c ct"/>
<circle cx="312.0" cy="460.6" r="4.2" fill="#2888c8" class="c"/>
<circle cx="326.0" cy="454.4" r="4.05" fill="#40a0d8" class="c ct"/>
<circle cx="329.2" cy="455.7" r="4.05" fill="#40a0d8" class="c ct"/>
<circle cx="332.3" cy="456.9" r="4.05" fill="#40a0d8" class="c ct"/>
<circle cx="341.1" cy="435.7" r="4.05" fill="#48a8e0" class="c ct"/>
<circle cx="355.4" cy="450.4" r="4.2" fill="#78a8c8" class="c"/>
<circle cx="353.3" cy="464.4" r="4.2" fill="#3494d0" class="c"/>
<circle cx="374.2" cy="479.2" r="4.05" fill="#2888c8" class="c ct"/>
<circle cx="339.0" cy="483.3" r="4.2" fill="#58a8dc" class="c"/>
<circle cx="338.4" cy="487.7" r="4.2" fill="#78a8c8" class="c"/>
<circle cx="325.6" cy="491.4" r="4.2" fill="#48a8e0" class="c"/>
<circle cx="334.8" cy="503.9" r="4.2" fill="#2888c8" class="c"/>
<circle cx="331.7" cy="509.6" r="4.2" fill="#1478b8" class="c"/>
<circle cx="330.1" cy="515.8" r="4.2" fill="#2888c8" class="c"/>
<circle cx="337.9" cy="513.8" r="4.2" fill="#2888c8" class="c"/>
<circle cx="345.2" cy="512.9" r="4.2" fill="#3494d0" class="c"/>
<circle cx="331.7" cy="523.6" r="4.2" fill="#1478b8" class="c"/>
<circle cx="336.9" cy="523.6" r="4.2" fill="#20a074" class="c"/>
<circle cx="357.7" cy="524.7" r="4.2" fill="#3494d0" class="c"/>
<circle cx="391.6" cy="516.8" r="4.2" fill="#48a8e0" class="c"/>
<circle cx="388.4" cy="524.7" r="4.2" fill="#2888c8" class="c"/>
<circle cx="390.5" cy="530.4" r="4.2" fill="#3494d0" class="c"/>
<circle cx="422.6" cy="536.4" r="4.2" fill="#88a4b8" class="c"/>
<circle cx="477.8" cy="359.2" r="4.2" fill="#88a4b8" class="c"/>
<circle cx="507.0" cy="348.2" r="4.2" fill="#48a0e0" class="c"/>
<circle cx="474.5" cy="475.3" r="4.2" fill="#88a4b8" class="c"/>
<circle cx="423.4" cy="395.2" r="4.2" fill="#a0a4a8" class="c"/>
<circle cx="443.5" cy="390.7" r="4.2" fill="#88a4b8" class="c"/>
<circle cx="427.1" cy="378.1" r="4.2" fill="#88a4b8" class="c"/>
<circle cx="427.9" cy="386.2" r="4.2" fill="#88a4b8" class="c"/>
<circle cx="432.3" cy="388.5" r="4.2" fill="#88a4b8" class="c"/>
<circle cx="431.6" cy="373.6" r="4.2" fill="#88a4b8" class="c"/>
<circle cx="436.8" cy="377.3" r="4.2" fill="#88a4b8" class="c"/>
<circle cx="437.5" cy="386.2" r="4.2" fill="#88a4b8" class="c"/>
<circle cx="433.8" cy="381.8" r="4.2" fill="#60a0d0" class="c"/>
<circle cx="227.5" cy="41.1" r="3.62" fill="#c8c8c8"/>
<circle cx="241.2" cy="49.5" r="3.62" fill="#c8c8c8"/>
<circle cx="275.9" cy="66.2" r="3.45" fill="#d0d0d0"/>
<circle cx="199.5" cy="97.1" r="3.62" fill="#d8d8d8"/>
<circle cx="235.2" cy="130.5" r="3.62" fill="#d0d0d0"/>
<circle cx="376.6" cy="28.6" r="3.62" fill="#b4b4b4"/>
<circle cx="455.9" cy="46.4" r="3.62" fill="#b8b8b8"/>
<circle cx="319.8" cy="78.0" r="3.62" fill="#d0d0d0"/>
<circle cx="234.6" cy="148.0" r="3.62" fill="#d0d0d0"/>
<circle cx="243.2" cy="169.5" r="3.62" fill="#c6c6c6"/>
<circle cx="274.8" cy="169.8" r="3.62" fill="#d8d8d8"/>
<circle cx="288.9" cy="179.5" r="3.62" fill="#d0d0d0"/>
<circle cx="231.1" cy="192.3" r="3.62" fill="#d8d8d8"/>
<circle cx="219.6" cy="197.1" r="3.62" fill="#e8e8e8"/>
<circle cx="243.0" cy="198.2" r="3.45" fill="#989898"/>
<circle cx="263.0" cy="199.3" r="3.62" fill="#d8d8d8"/>
<circle cx="293.0" cy="202.9" r="3.62" fill="#d8d8d8"/>
<circle cx="258.0" cy="211.6" r="3.62" fill="#b4b4b4"/>
<circle cx="194.3" cy="218.2" r="3.62" fill="#d8d8d8"/>
<circle cx="233.4" cy="217.3" r="3.45" fill="#8aa4bc"/>
<circle cx="250.7" cy="218.4" r="3.62" fill="#c0c0c0"/>
<circle cx="253.4" cy="221.6" r="3.62" fill="#c6c6c6"/>
<circle cx="240.4" cy="222.9" r="3.62" fill="#a4a4a4"/>
<circle cx="245.4" cy="223.2" r="3.62" fill="#b4b4b4"/>
<circle cx="249.5" cy="229.5" r="3.62" fill="#b4b4b4"/>
<circle cx="305.0" cy="214.4" r="3.62" fill="#e8e8e8"/>
<circle cx="303.4" cy="225.5" r="3.62" fill="#d8d8d8"/>
<circle cx="311.8" cy="193.8" r="3.62" fill="#e0e0e0"/>
<circle cx="312.0" cy="197.5" r="3.62" fill="#e0e0e0"/>
<circle cx="307.5" cy="198.0" r="3.62" fill="#c0c0c0"/>
<circle cx="308.7" cy="203.7" r="3.62" fill="#d8d8d8"/>
<circle cx="198.9" cy="238.9" r="3.62" fill="#b4b4b4"/>
<circle cx="203.5" cy="235.3" r="3.62" fill="#c0c0c0"/>
<circle cx="209.8" cy="236.3" r="3.62" fill="#78a8c8"/>
<circle cx="204.1" cy="241.5" r="3.62" fill="#58a8dc"/>
<circle cx="205.1" cy="247.8" r="3.62" fill="#58b0e0"/>
<circle cx="200.4" cy="249.9" r="3.62" fill="#b4b4b4"/>
<circle cx="208.2" cy="253.0" r="3.62" fill="#78a8c8"/>
<circle cx="215.0" cy="245.7" r="3.62" fill="#d0d0d0"/>
<circle cx="216.6" cy="257.2" r="3.62" fill="#a8a8a8"/>
<circle cx="203.5" cy="263.4" r="3.62" fill="#b4b4b4"/>
<circle cx="212.9" cy="272.3" r="3.62" fill="#78a8c8"/>
<circle cx="213.9" cy="273.3" r="3.62" fill="#78a8c8"/>
<circle cx="240.5" cy="251.4" r="3.62" fill="#a4a4a4"/>
<circle cx="239.5" cy="259.2" r="3.62" fill="#c0c0c0"/>
<circle cx="246.8" cy="268.1" r="3.62" fill="#b4b4b4"/>
<circle cx="250.2" cy="276.4" r="3.62" fill="#b4b4b4"/>
<circle cx="203.0" cy="281.6" r="3.62" fill="#a8a8a8"/>
<circle cx="204.6" cy="286.9" r="3.62" fill="#c6c6c6"/>
<circle cx="219.5" cy="290.3" r="3.62" fill="#a4a4a4"/>
<circle cx="224.6" cy="299.4" r="3.62" fill="#a2a4a8"/>
<circle cx="213.9" cy="303.4" r="3.62" fill="#a2a4a8"/>
<circle cx="207.7" cy="311.2" r="3.62" fill="#e0e0e0"/>
<circle cx="225.4" cy="328.6" r="3.62" fill="#a2a4a8"/>
<circle cx="263.6" cy="247.0" r="3.62" fill="#c6c6c6"/>
<circle cx="313.8" cy="271.2" r="3.62" fill="#d8d8d8"/>
<circle cx="260.5" cy="287.0" r="3.62" fill="#b4b4b4"/>
<circle cx="261.5" cy="288.0" r="3.62" fill="#b4b4b4"/>
<circle cx="271.4" cy="306.4" r="3.62" fill="#88a8c0"/>
<circle cx="284.8" cy="308.4" r="3.62" fill="#d0d0d0"/>
<circle cx="278.4" cy="318.9" r="3.62" fill="#78a8c8"/>
<circle cx="280.2" cy="316.3" r="3.62" fill="#b0b0b0"/>
<circle cx="256.1" cy="317.1" r="3.62" fill="#88a8c0"/>
<circle cx="331.6" cy="302.4" r="3.62" fill="#b4b4b4"/>
<circle cx="335.4" cy="303.9" r="3.62" fill="#c0c0c0"/>
<circle cx="333.9" cy="312.8" r="3.62" fill="#b4b4b4"/>
<circle cx="277.9" cy="337.7" r="3.62" fill="#64a8d8"/>
<circle cx="289.6" cy="340.9" r="3.62" fill="#a8a8a8"/>
<circle cx="277.9" cy="347.5" r="3.62" fill="#64a8d8"/>
<circle cx="308.2" cy="337.1" r="3.62" fill="#d8d8d8"/>
<circle cx="336.4" cy="339.1" r="3.62" fill="#b4b4b4"/>
<circle cx="341.4" cy="345.4" r="3.62" fill="#a4a4a4"/>
<circle cx="233.4" cy="363.6" r="3.62" fill="#e0e0e0"/>
<circle cx="231.4" cy="374.2" r="3.62" fill="#58a8dc"/>
<circle cx="232.5" cy="386.5" r="3.62" fill="#58a8dc"/>
<circle cx="231.0" cy="384.0" r="3.62" fill="#a2a4a8"/>
<circle cx="234.6" cy="392.2" r="3.62" fill="#c6c6c6"/>
<circle cx="225.6" cy="402.9" r="3.62" fill="#c6c6c6"/>
<circle cx="230.5" cy="402.5" r="3.62" fill="#88a8c0"/>
<circle cx="287.9" cy="384.0" r="3.62" fill="#88a8c0"/>
<circle cx="290.4" cy="382.5" r="3.62" fill="#48a8e0"/>
<circle cx="338.2" cy="383.2" r="3.62" fill="#e0e0e0"/>
<circle cx="315.5" cy="405.2" r="3.62" fill="#d0d0d0"/>
<circle cx="312.5" cy="419.2" r="3.62" fill="#88a0b4"/>
<circle cx="243.9" cy="407.4" r="3.62" fill="#a8a8a8"/>
<circle cx="250.7" cy="416.6" r="3.62" fill="#68a4cc"/>
<circle cx="255.5" cy="418.9" r="3.62" fill="#48a8e0"/>
<circle cx="261.4" cy="421.9" r="3.62" fill="#78a8c8"/>
<circle cx="272.4" cy="421.9" r="3.62" fill="#78a8c8"/>
<circle cx="273.3" cy="431.4" r="3.62" fill="#78a8c8"/>
<circle cx="286.7" cy="427.3" r="3.62" fill="#68a4cc"/>
<circle cx="282.3" cy="435.6" r="3.62" fill="#48a8e0"/>
<circle cx="290.0" cy="434.4" r="3.45" fill="#40a0d8"/>
<circle cx="304.3" cy="447.1" r="3.62" fill="#40a0d8"/>
<circle cx="303.1" cy="454.6" r="3.45" fill="#2888c8"/>
<circle cx="303.1" cy="460.0" r="3.45" fill="#2888c8"/>
<circle cx="312.0" cy="460.6" r="3.62" fill="#2888c8"/>
<circle cx="326.0" cy="454.4" r="3.45" fill="#40a0d8"/>
<circle cx="329.2" cy="455.7" r="3.45" fill="#40a0d8"/>
<circle cx="332.3" cy="456.9" r="3.45" fill="#40a0d8"/>
<circle cx="341.1" cy="435.7" r="3.45" fill="#48a8e0"/>
<circle cx="355.4" cy="450.4" r="3.62" fill="#78a8c8"/>
<circle cx="353.3" cy="464.4" r="3.62" fill="#3494d0"/>
<circle cx="374.2" cy="479.2" r="3.45" fill="#2888c8"/>
<circle cx="339.0" cy="483.3" r="3.62" fill="#58a8dc"/>
<circle cx="338.4" cy="487.7" r="3.62" fill="#78a8c8"/>
<circle cx="325.6" cy="491.4" r="3.62" fill="#48a8e0"/>
<circle cx="334.8" cy="503.9" r="3.62" fill="#2888c8"/>
<circle cx="331.7" cy="509.6" r="3.62" fill="#1478b8"/>
<circle cx="330.1" cy="515.8" r="3.62" fill="#2888c8"/>
<circle cx="337.9" cy="513.8" r="3.62" fill="#2888c8"/>
<circle cx="345.2" cy="512.9" r="3.62" fill="#3494d0"/>
<circle cx="331.7" cy="523.6" r="3.62" fill="#1478b8"/>
<circle cx="336.9" cy="523.6" r="3.62" fill="#20a074"/>
<circle cx="357.7" cy="524.7" r="3.62" fill="#3494d0"/>
<circle cx="391.6" cy="516.8" r="3.62" fill="#48a8e0"/>
<circle cx="388.4" cy="524.7" r="3.62" fill="#2888c8"/>
<circle cx="390.5" cy="530.4" r="3.62" fill="#3494d0"/>
<circle cx="422.6" cy="536.4" r="3.62" fill="#88a4b8"/>
<circle cx="477.8" cy="359.2" r="3.62" fill="#88a4b8"/>
<circle cx="507.0" cy="348.2" r="3.62" fill="#48a0e0"/>
<circle cx="474.5" cy="475.3" r="3.62" fill="#88a4b8"/>
<circle cx="423.4" cy="395.2" r="3.62" fill="#a0a4a8"/>
<circle cx="443.5" cy="390.7" r="3.62" fill="#88a4b8"/>
<circle cx="427.1" cy="378.1" r="3.62" fill="#88a4b8"/>
<circle cx="427.9" cy="386.2" r="3.62" fill="#88a4b8"/>
<circle cx="432.3" cy="388.5" r="3.62" fill="#88a4b8"/>
<circle cx="431.6" cy="373.6" r="3.62" fill="#88a4b8"/>
<circle cx="436.8" cy="377.3" r="3.62" fill="#88a4b8"/>
<circle cx="437.5" cy="386.2" r="3.62" fill="#88a4b8"/>
<circle cx="433.8" cy="381.8" r="3.62" fill="#60a0d0"/>
<circle cx="431.0" cy="378.5" r="3.62" fill="#88a4b8"/>
<circle cx="429.5" cy="382.5" r="3.62" fill="#88a4b8"/>
<circle cx="432.5" cy="384.5" r="3.62" fill="#88a4b8"/>
<circle cx="433.8" cy="381.8" r="3.62" fill="#60a0d0"/>
<circle cx="433.4" cy="384.4" r="0.9" fill="#000"/>
</g>
<circle cx="472.5" cy="578.4" r="2.6" fill="#000"/>
<text x="483.5" y="582.5" class="s">AQS</text>
<rect x="28.5" y="28.5" width="485" height="564" class="bx"/>
<line x1="44.9" y1="592.5" x2="44.9" y2="599.5" class="k"/>
<text x="44.9" y="619" class="s" text-anchor="middle">-124</text>
<line x1="119.5" y1="592.5" x2="119.5" y2="599.5" class="k"/>
<text x="119.5" y="619" class="s" text-anchor="middle">-122</text>
<line x1="194.9" y1="592.5" x2="194.9" y2="599.5" class="k"/>
<text x="194.9" y="619" class="s" text-anchor="middle">-120</text>
<line x1="270.5" y1="592.5" x2="270.5" y2="599.5" class="k"/>
<text x="270.5" y="619" class="s" text-anchor="middle">-118</text>
<line x1="346.6" y1="592.5" x2="346.6" y2="599.5" class="k"/>
<text x="346.6" y="619" class="s" text-anchor="middle">-116</text>
<line x1="423.3" y1="592.5" x2="423.3" y2="599.5" class="k"/>
<text x="423.3" y="619" class="s" text-anchor="middle">-114</text>
<line x1="499.9" y1="592.5" x2="499.9" y2="599.5" class="k"/>
<text x="499.9" y="619" class="s" text-anchor="middle">-112</text>
<line x1="21.5" y1="576.5" x2="28.5" y2="576.5" class="k"/>
<text transform="translate(12.2,576.5) rotate(-90)" class="s" text-anchor="middle">33</text>
<line x1="21.5" y1="487.5" x2="28.5" y2="487.5" class="k"/>
<text transform="translate(12.2,487.5) rotate(-90)" class="s" text-anchor="middle">35</text>
<line x1="21.5" y1="398.5" x2="28.5" y2="398.5" class="k"/>
<text transform="translate(12.2,398.5) rotate(-90)" class="s" text-anchor="middle">37</text>
<line x1="21.5" y1="309.5" x2="28.5" y2="309.5" class="k"/>
<text transform="translate(12.2,309.5) rotate(-90)" class="s" text-anchor="middle">39</text>
<line x1="21.5" y1="220.6" x2="28.5" y2="220.6" class="k"/>
<text transform="translate(12.2,220.6) rotate(-90)" class="s" text-anchor="middle">41</text>
<line x1="21.5" y1="131.6" x2="28.5" y2="131.6" class="k"/>
<text transform="translate(12.2,131.6) rotate(-90)" class="s" text-anchor="middle">43</text>
<line x1="21.5" y1="42.6" x2="28.5" y2="42.6" class="k"/>
<text transform="translate(12.2,42.6) rotate(-90)" class="s" text-anchor="middle">45</text>
<rect x="545.7" y="56.50" width="7.9" height="11.84" fill="#ff0000"/>
<rect x="545.7" y="68.04" width="7.9" height="11.84" fill="#f01526"/>
<rect x="545.7" y="79.58" width="7.9" height="11.84" fill="#e82e4a"/>
<rect x="545.7" y="91.12" width="7.9" height="11.84" fill="#e0486a"/>
<rect x="545.7" y="102.66" width="7.9" height="11.84" fill="#d66090"/>
<rect x="545.7" y="114.20" width="7.9" height="11.84" fill="#cc77a0"/>
<rect x="545.7" y="125.75" width="7.9" height="11.84" fill="#d07878"/>
<rect x="545.7" y="137.29" width="7.9" height="11.84" fill="#d46e5c"/>
<rect x="545.7" y="148.83" width="7.9" height="11.84" fill="#d46a40"/>
<rect x="545.7" y="160.37" width="7.9" height="11.84" fill="#d86a1e"/>
<rect x="545.7" y="171.91" width="7.9" height="11.84" fill="#dc7208"/>
<rect x="545.7" y="183.45" width="7.9" height="11.84" fill="#e07808"/>
<rect x="545.7" y="194.99" width="7.9" height="11.84" fill="#e48208"/>
<rect x="545.7" y="206.53" width="7.9" height="11.84" fill="#e88e08"/>
<rect x="545.7" y="218.07" width="7.9" height="11.84" fill="#e89a0a"/>
<rect x="545.7" y="229.61" width="7.9" height="11.84" fill="#e8a412"/>
<rect x="545.7" y="241.15" width="7.9" height="11.84" fill="#e8b020"/>
<rect x="545.7" y="252.70" width="7.9" height="11.84" fill="#e8bc28"/>
<rect x="545.7" y="264.24" width="7.9" height="11.84" fill="#e8cc30"/>
<rect x="545.7" y="275.78" width="7.9" height="11.84" fill="#ecdc3c"/>
<rect x="545.7" y="287.32" width="7.9" height="11.84" fill="#c8d450"/>
<rect x="545.7" y="298.86" width="7.9" height="11.84" fill="#a0cc58"/>
<rect x="545.7" y="310.40" width="7.9" height="11.84" fill="#70bc60"/>
<rect x="545.7" y="321.94" width="7.9" height="11.84" fill="#40b070"/>
<rect x="545.7" y="333.48" width="7.9" height="11.84" fill="#20a074"/>
<rect x="545.7" y="345.02" width="7.9" height="11.84" fill="#149480"/>
<rect x="545.7" y="356.56" width="7.9" height="11.84" fill="#108888"/>
<rect x="545.7" y="368.10" width="7.9" height="11.84" fill="#107c90"/>
<rect x="545.7" y="379.65" width="7.9" height="11.84" fill="#0c74a8"/>
<rect x="545.7" y="391.19" width="7.9" height="11.84" fill="#1478b8"/>
<rect x="545.7" y="402.73" width="7.9" height="11.84" fill="#2888c8"/>
<rect x="545.7" y="414.27" width="7.9" height="11.84" fill="#3494d0"/>
<rect x="545.7" y="425.81" width="7.9" height="11.84" fill="#40a0d8"/>
<rect x="545.7" y="437.35" width="7.9" height="11.84" fill="#48a8e0"/>
<rect x="545.7" y="448.89" width="7.9" height="11.84" fill="#58a8dc"/>
<rect x="545.7" y="460.43" width="7.9" height="11.84" fill="#68a4cc"/>
<rect x="545.7" y="471.97" width="7.9" height="11.84" fill="#7898b0"/>
<rect x="545.7" y="483.51" width="7.9" height="11.84" fill="#8890a0"/>
<rect x="545.7" y="495.05" width="7.9" height="11.84" fill="#949494"/>
<rect x="545.7" y="506.60" width="7.9" height="11.84" fill="#a4a4a4"/>
<rect x="545.7" y="518.14" width="7.9" height="11.84" fill="#b4b4b4"/>
<rect x="545.7" y="529.68" width="7.9" height="11.84" fill="#c6c6c6"/>
<rect x="545.7" y="541.22" width="7.9" height="11.84" fill="#d8d8d8"/>
<rect x="545.7" y="552.76" width="7.9" height="11.84" fill="#e8e8e8"/>
<rect x="545.5" y="56.5" width="8.1" height="507.8" fill="none" stroke="#a4a8a8" stroke-width="0.9"/>
<line x1="553.6" y1="62.9" x2="553.6" y2="558.4" class="k"/>
<line x1="553.6" y1="558.4" x2="560.9" y2="558.4" class="k"/>
<text x="568.2" y="562.8" class="s">0</text>
<line x1="553.6" y1="508.8" x2="560.9" y2="508.8" class="k"/>
<text x="568.2" y="513.2" class="s">5</text>
<line x1="553.6" y1="459.3" x2="560.9" y2="459.3" class="k"/>
<text x="568.2" y="463.7" class="s">10</text>
<line x1="553.6" y1="409.8" x2="560.9" y2="409.8" class="k"/>
<text x="568.2" y="414.2" class="s">15</text>
<line x1="553.6" y1="360.2" x2="560.9" y2="360.2" class="k"/>
<text x="568.2" y="364.6" class="s">20</text>
<line x1="553.6" y1="310.6" x2="560.9" y2="310.6" class="k"/>
<text x="568.2" y="315.0" class="s">25</text>
<line x1="553.6" y1="261.1" x2="560.9" y2="261.1" class="k"/>
<text x="568.2" y="265.5" class="s">30</text>
<line x1="553.6" y1="211.5" x2="560.9" y2="211.5" class="k"/>
<text x="568.2" y="215.9" class="s">35</text>
<line x1="553.6" y1="162.0" x2="560.9" y2="162.0" class="k"/>
<text x="568.2" y="166.4" class="s">40</text>
<line x1="553.6" y1="112.4" x2="560.9" y2="112.4" class="k"/>
<text x="568.2" y="116.8" class="s">45</text>
<line x1="553.6" y1="62.9" x2="560.9" y2="62.9" class="k"/>
<text x="568.2" y="67.3" class="s">50</text>
<text x="532.3" y="53.75" class="s">ugm-3</text>
<text x="271" y="640" class="s" text-anchor="middle" xml:space="preserve">Domain size: 37x32 | Max Model = 66 at (17, 32)</text>
<text x="271" y="654.5" class="s" text-anchor="middle" xml:space="preserve">Max Obs: 17</text>
</g>
<g transform="translate(600,0)">
<text transform="translate(271,19.9) scale(1.01,1.09)" class="t">EMBER bias: ATOTIJ on 06/23/2025</text>
<g clip-path="url(#pc)">
<polyline points="194.1,28.6 193.2,32.1 192.3,35.7 192.9,41.1 192.3,44.6 195.0,50.0 193.2,56.3 191.1,59.8 193.2,63.4 193.2,71.4 191.1,78.6 187.0,86.6 185.7,90.0 186.2,93.6 183.9,98.0 180.4,102.5 176.3,105.6 172.3,110.5 169.2,115.4 168.9,122.1 168.3,124.4 170.5,128.4 174.1,132.9 174.6,136.4 176.8,140.0 178.4,144.5 178.9,153.4 178.4,159.6 174.8,165.0 173.6,171.3 174.3,178.4 171.8,185.5 174.8,193.6 177.9,200.0 179.4,205.2 181.7,208.9 185.4,213.0 185.8,219.0 186.9,220.5 188.0,223.8 187.6,227.5 186.1,231.2 183.5,234.2 186.9,232.5 188.0,233.5 191.0,237.7 193.2,241.4 196.2,244.4 197.0,248.0 196.2,252.6 194.7,256.3 195.4,260.7 195.1,265.2 194.3,269.7 194.0,274.1 195.4,278.0 199.6,281.8 205.0,287.1 209.7,290.0 211.0,296.2 209.7,298.5 205.7,304.3 203.5,302.5 201.7,304.7 201.7,307.9 200.8,317.7 206.6,324.8 208.8,332.9 211.1,337.3 211.5,340.9 214.2,347.1 217.9,352.5 220.5,358.8 225.0,364.1 225.9,368.6 223.6,371.3 224.1,374.8 227.7,377.5 228.6,382.9 227.7,388.2 226.8,393.6 226.8,398.9 225.0,403.4 227.7,406.1 228.6,410.5 235.7,412.3 242.9,414.1 248.2,416.8 255.4,420.4 262.5,423.9 267.9,429.3 270.5,433.8 275.0,438.2 282.1,443.6 290.7,445.4 293.4,448.0 295.2,454.3 294.3,457.9 297.9,461.4 305.9,463.2 308.6,468.6 315.7,477.5 322.9,485.5 326.4,491.8 327.3,497.1 327.3,500.0 326.5,508.1 325.7,514.6 328.9,519.5 329.1,523.9 328.9,526.0 329.8,532.5 333.0,539.0 333.8,547.1 338.7,553.6 341.1,558.5 337.9,563.4 335.4,569.9 341.1,578.0 344.4,586.1 346.0,592.6" class="m"/>
<polyline points="196.2,244.4 199.0,241.0 200.0,236.0 203.0,233.0 206.0,232.5 210.0,235.0 212.6,239.9 216.3,238.4 219.2,237.7 218.5,239.9 223.0,242.1 226.7,243.6 229.7,240.6 228.6,245.1 232.6,242.9 235.6,247.3 238.0,250.3" class="m"/>
<polyline points="197.0,248.0 200.3,254.0 201.0,257.8 204.4,260.0 207.7,262.2 209.6,266.0 208.1,265.2" class="m"/>
<polyline points="188.0,224.6 190.6,232.0" class="m"/>
<polyline points="195.9,51.4 240.0,64.0 280.0,75.4 290.0,78.2 329.0,89.0 380.0,101.5 424.4,111.6 470.0,121.0 513.6,130.0" class="m"/>
<polyline points="329.0,89.0 315.7,140.0 314.0,145.0 308.6,166.8 304.1,184.6 296.0,217.6 300.6,225.7 441.7,432.5" class="m"/>
<polyline points="424.7,111.3 440.8,39.7 442.1,34.4 445.5,28.7" class="m"/>
<polyline points="513.4,174.7 483.8,330.0 479.7,351.6" class="m"/>
<polyline points="479.7,351.6 513.6,357.3" class="m"/>
<polyline points="479.7,351.6 477.4,360.0 474.6,375.8 471.8,387.0 468.1,391.6 464.4,392.2 462.5,388.8 460.7,386.6 453.2,384.7 448.6,386.0 446.7,394.4 445.4,409.3 445.8,420.4 443.9,427.9 442.1,431.6 441.5,432.7 441.5,439.4 443.5,443.4 446.2,449.4 446.9,459.5 450.2,464.1 454.0,469.5 448.9,472.8 442.9,475.5 436.2,482.2 434.8,490.2 433.5,496.9 428.8,500.9 424.8,504.3 423.5,509.0 424.0,517.9 429.7,522.7 430.5,527.6 426.4,532.5 419.4,534.9 415.1,539.0 413.9,543.1" class="m"/>
<polyline points="329.1,523.9 341.1,525.2 357.4,526.0 385.0,530.1 389.9,530.9 419.1,534.4" class="m"/>
<polyline points="413.9,543.1 497.6,592.6" class="m"/>
<polyline points="401.2,565.8 404.5,568.2 408.6,573.1 411.0,578.0 412.6,579.6" class="m"/>
<polyline points="408.6,576.4 405.3,581.2 403.5,586.0 402.9,592.6" class="m"/>
<polyline points="414.2,576.4 428.9,592.6" class="m"/>
<polyline points="437.0,592.6 437.2,586.5 443.5,592.6" class="m"/>
<polyline points="176.3,105.6 180.0,103.8 184.2,101.6" class="m"/>
<circle cx="227.5" cy="41.1" r="4.2" fill="#e4e4e4" class="c"/>
<circle cx="241.2" cy="49.5" r="4.2" fill="#ece6b4" class="c"/>
<circle cx="275.9" cy="66.2" r="4.05" fill="#e4e4e4" class="c ct"/>
<circle cx="199.5" cy="97.1" r="4.2" fill="#e4e4e4" class="c"/>
<circle cx="235.2" cy="130.5" r="4.2" fill="#e4e4e4" class="c"/>
<circle cx="376.6" cy="28.6" r="4.2" fill="#c4e0c4" class="c"/>
<circle cx="455.9" cy="46.4" r="4.2" fill="#ece6b4" class="c"/>
<circle cx="319.8" cy="78.0" r="4.2" fill="#e4e4e4" class="c"/>
<circle cx="234.6" cy="148.0" r="4.2" fill="#e4e4e4" class="c"/>
<circle cx="243.2" cy="169.5" r="4.2" fill="#e4e4e4" class="c"/>
<circle cx="274.8" cy="169.8" r="4.2" fill="#e4e4e4" class="c"/>
<circle cx="288.9" cy="179.5" r="4.2" fill="#e4e4e4" class="c"/>
<circle cx="231.1" cy="192.3" r="4.2" fill="#e4e4e4" class="c"/>
<circle cx="219.6" cy="197.1" r="4.2" fill="#e4e4e4" class="c"/>
<circle cx="243.0" cy="198.2" r="4.05" fill="#c4e0c4" class="c ct"/>
<circle cx="263.0" cy="199.3" r="4.2" fill="#e4e4e4" class="c"/>
<circle cx="293.0" cy="202.9" r="4.2" fill="#e4e4e4" class="c"/>
<circle cx="258.0" cy="211.6" r="4.2" fill="#e4e4e4" class="c"/>
<circle cx="194.3" cy="218.2" r="4.2" fill="#e4e4e4" class="c"/>
<circle cx="233.4" cy="217.3" r="4.05" fill="#e4e4e4" class="c ct"/>
<circle cx="250.7" cy="218.4" r="4.2" fill="#e4e4e4" class="c"/>
<circle cx="253.4" cy="221.6" r="4.2" fill="#e4e4e4" class="c"/>
<circle cx="240.4" cy="222.9" r="4.2" fill="#e4e4e4" class="c"/>
<circle cx="245.4" cy="223.2" r="4.2" fill="#e4e4e4" class="c"/>
<circle cx="249.5" cy="229.5" r="4.2" fill="#e4e4e4" class="c"/>
<circle cx="305.0" cy="214.4" r="4.2" fill="#ece6b4" class="c"/>
<circle cx="303.4" cy="225.5" r="4.2" fill="#e4e4e4" class="c"/>
<circle cx="311.8" cy="193.8" r="4.2" fill="#e4e4e4" class="c"/>
<circle cx="312.0" cy="197.5" r="4.2" fill="#e4e4e4" class="c"/>
<circle cx="307.5" cy="198.0" r="4.2" fill="#c4e0c4" class="c"/>
<circle cx="308.7" cy="203.7" r="4.2" fill="#e4e4e4" class="c"/>
<circle cx="198.9" cy="238.9" r="4.2" fill="#e4e4e4" class="c"/>
<circle cx="203.5" cy="235.3" r="4.2" fill="#e4e4e4" class="c"/>
<circle cx="209.8" cy="236.3" r="4.2" fill="#e4e4e4" class="c"/>
<circle cx="204.1" cy="241.5" r="4.2" fill="#e4e4e4" class="c"/>
<circle cx="205.1" cy="247.8" r="4.2" fill="#a8dca8" class="c"/>
<circle cx="200.4" cy="249.9" r="4.2" fill="#e4e4e4" class="c"/>
<circle cx="208.2" cy="253.0" r="4.2" fill="#e4e4e4" class="c"/>
<circle cx="215.0" cy="245.7" r="4.2" fill="#e4e4e4" class="c"/>
<circle cx="216.6" cy="257.2" r="4.2" fill="#e4e4e4" class="c"/>
<circle cx="203.5" cy="263.4" r="4.2" fill="#e4e4e4" class="c"/>
<circle cx="212.9" cy="272.3" r="4.2" fill="#c4e0c4" class="c"/>
<circle cx="213.9" cy="273.3" r="4.2" fill="#c4e0c4" class="c"/>
<circle cx="240.5" cy="251.4" r="4.2" fill="#e4e4e4" class="c"/>
<circle cx="239.5" cy="259.2" r="4.2" fill="#ece6b4" class="c"/>
<circle cx="246.8" cy="268.1" r="4.2" fill="#e4e4e4" class="c"/>
<circle cx="250.2" cy="276.4" r="4.2" fill="#e4e4e4" class="c"/>
<circle cx="203.0" cy="281.6" r="4.2" fill="#e4e4e4" class="c"/>
<circle cx="204.6" cy="286.9" r="4.2" fill="#e4e4e4" class="c"/>
<circle cx="219.5" cy="290.3" r="4.2" fill="#e4e4e4" class="c"/>
<circle cx="224.6" cy="299.4" r="4.2" fill="#e4e4e4" class="c"/>
<circle cx="213.9" cy="303.4" r="4.2" fill="#e4e4e4" class="c"/>
<circle cx="207.7" cy="311.2" r="4.2" fill="#e4e4e4" class="c"/>
<circle cx="225.4" cy="328.6" r="4.2" fill="#c4e0c4" class="c"/>
<circle cx="263.6" cy="247.0" r="4.2" fill="#e4e4e4" class="c"/>
<circle cx="313.8" cy="271.2" r="4.2" fill="#e4e4e4" class="c"/>
<circle cx="260.5" cy="287.0" r="4.2" fill="#e4e4e4" class="c"/>
<circle cx="261.5" cy="288.0" r="4.2" fill="#e4e4e4" class="c"/>
<circle cx="271.4" cy="306.4" r="4.2" fill="#88d088" class="c"/>
<circle cx="284.8" cy="308.4" r="4.2" fill="#e4e4e4" class="c"/>
<circle cx="278.4" cy="318.9" r="4.2" fill="#a8dca8" class="c"/>
<circle cx="280.2" cy="316.3" r="4.2" fill="#e4e4e4" class="c"/>
<circle cx="256.1" cy="317.1" r="4.2" fill="#88d088" class="c"/>
<circle cx="331.6" cy="302.4" r="4.2" fill="#a8dca8" class="c"/>
<circle cx="335.4" cy="303.9" r="4.2" fill="#e4e4e4" class="c"/>
<circle cx="333.9" cy="312.8" r="4.2" fill="#a8dca8" class="c"/>
<circle cx="277.9" cy="337.7" r="4.2" fill="#68c080" class="c"/>
<circle cx="289.6" cy="340.9" r="4.2" fill="#e4e4e4" class="c"/>
<circle cx="277.9" cy="347.5" r="4.2" fill="#68c080" class="c"/>
<circle cx="308.2" cy="337.1" r="4.2" fill="#e4e4e4" class="c"/>
<circle cx="336.4" cy="339.1" r="4.2" fill="#a8dca8" class="c"/>
<circle cx="341.4" cy="345.4" r="4.2" fill="#88d088" class="c"/>
<circle cx="233.4" cy="363.6" r="4.2" fill="#ece6b4" class="c"/>
<circle cx="231.4" cy="374.2" r="4.2" fill="#68c080" class="c"/>
<circle cx="232.5" cy="386.5" r="4.2" fill="#68c080" class="c"/>
<circle cx="231.0" cy="384.0" r="4.2" fill="#c4e0c4" class="c"/>
<circle cx="234.6" cy="392.2" r="4.2" fill="#e4e4e4" class="c"/>
<circle cx="225.6" cy="402.9" r="4.2" fill="#e4e4e4" class="c"/>
<circle cx="230.5" cy="402.5" r="4.2" fill="#a8dca8" class="c"/>
<circle cx="287.9" cy="384.0" r="4.2" fill="#a8dca8" class="c"/>
<circle cx="290.4" cy="382.5" r="4.2" fill="#88d088" class="c"/>
<circle cx="338.2" cy="383.2" r="4.2" fill="#e4e4e4" class="c"/>
<circle cx="315.5" cy="405.2" r="4.2" fill="#e4e4e4" class="c"/>
<circle cx="312.5" cy="419.2" r="4.2" fill="#c4e0c4" class="c"/>
<circle cx="243.9" cy="407.4" r="4.2" fill="#c4e0c4" class="c"/>
<circle cx="250.7" cy="416.6" r="4.2" fill="#a8dca8" class="c"/>
<circle cx="255.5" cy="418.9" r="4.2" fill="#68c080" class="c"/>
<circle cx="261.4" cy="421.9" r="4.2" fill="#a8dca8" class="c"/>
<circle cx="272.4" cy="421.9" r="4.2" fill="#c4e0c4" class="c"/>
<circle cx="273.3" cy="431.4" r="4.2" fill="#a8dca8" class="c"/>
<circle cx="286.7" cy="427.3" r="4.2" fill="#a8dca8" class="c"/>
<circle cx="282.3" cy="435.6" r="4.2" fill="#88d088" class="c"/>
<circle cx="290.0" cy="434.4" r="4.05" fill="#68c080" class="c ct"/>
<circle cx="304.3" cy="447.1" r="4.2" fill="#68c080" class="c"/>
<circle cx="303.1" cy="454.6" r="4.05" fill="#68c080" class="c ct"/>
<circle cx="303.1" cy="460.0" r="4.05" fill="#68c080" class="c ct"/>
<circle cx="312.0" cy="460.6" r="4.2" fill="#68c080" class="c"/>
<circle cx="326.0" cy="454.4" r="4.05" fill="#68c080" class="c ct"/>
<circle cx="329.2" cy="455.7" r="4.05" fill="#68c080" class="c ct"/>
<circle cx="332.3" cy="456.9" r="4.05" fill="#68c080" class="c ct"/>
<circle cx="341.1" cy="435.7" r="4.05" fill="#a8dca8" class="c ct"/>
<circle cx="355.4" cy="450.4" r="4.2" fill="#c4e0c4" class="c"/>
<circle cx="353.3" cy="464.4" r="4.2" fill="#88d088" class="c"/>
<circle cx="374.2" cy="479.2" r="4.05" fill="#48b078" class="c ct"/>
<circle cx="339.0" cy="483.3" r="4.2" fill="#a8dca8" class="c"/>
<circle cx="338.4" cy="487.7" r="4.2" fill="#a8dca8" class="c"/>
<circle cx="325.6" cy="491.4" r="4.2" fill="#68c080" class="c"/>
<circle cx="334.8" cy="503.9" r="4.2" fill="#68c080" class="c"/>
<circle cx="331.7" cy="509.6" r="4.2" fill="#48b078" class="c"/>
<circle cx="330.1" cy="515.8" r="4.2" fill="#68c080" class="c"/>
<circle cx="337.9" cy="513.8" r="4.2" fill="#68c080" class="c"/>
<circle cx="345.2" cy="512.9" r="4.2" fill="#68c080" class="c"/>
<circle cx="331.7" cy="523.6" r="4.2" fill="#30a070" class="c"/>
<circle cx="336.9" cy="523.6" r="4.2" fill="#109090" class="c"/>
<circle cx="357.7" cy="524.7" r="4.2" fill="#68c080" class="c"/>
<circle cx="391.6" cy="516.8" r="4.2" fill="#88d088" class="c"/>
<circle cx="388.4" cy="524.7" r="4.2" fill="#68c080" class="c"/>
<circle cx="390.5" cy="530.4" r="4.2" fill="#68c080" class="c"/>
<circle cx="422.6" cy="536.4" r="4.2" fill="#a8dca8" class="c"/>
<circle cx="477.8" cy="359.2" r="4.2" fill="#ece6b4" class="c"/>
<circle cx="507.0" cy="348.2" r="4.2" fill="#88d088" class="c"/>
<circle cx="474.5" cy="475.3" r="4.2" fill="#88d088" class="c"/>
<circle cx="423.4" cy="395.2" r="4.2" fill="#a8dca8" class="c"/>
<circle cx="443.5" cy="390.7" r="4.2" fill="#a8dca8" class="c"/>
<circle cx="427.1" cy="378.1" r="4.2" fill="#c4e0c4" class="c"/>
<circle cx="427.9" cy="386.2" r="4.2" fill="#c4e0c4" class="c"/>
<circle cx="432.3" cy="388.5" r="4.2" fill="#c4e0c4" class="c"/>
<circle cx="431.6" cy="373.6" r="4.2" fill="#a8dca8" class="c"/>
<circle cx="436.8" cy="377.3" r="4.2" fill="#a8dca8" class="c"/>
<circle cx="437.5" cy="386.2" r="4.2" fill="#a8dca8" class="c"/>
<circle cx="433.8" cy="381.8" r="4.2" fill="#a8dca8" class="c"/>
<circle cx="227.5" cy="41.1" r="3.62" fill="#e4e4e4"/>
<circle cx="241.2" cy="49.5" r="3.62" fill="#ece6b4"/>
<circle cx="275.9" cy="66.2" r="3.45" fill="#e4e4e4"/>
<circle cx="199.5" cy="97.1" r="3.62" fill="#e4e4e4"/>
<circle cx="235.2" cy="130.5" r="3.62" fill="#e4e4e4"/>
<circle cx="376.6" cy="28.6" r="3.62" fill="#c4e0c4"/>
<circle cx="455.9" cy="46.4" r="3.62" fill="#ece6b4"/>
<circle cx="319.8" cy="78.0" r="3.62" fill="#e4e4e4"/>
<circle cx="234.6" cy="148.0" r="3.62" fill="#e4e4e4"/>
<circle cx="243.2" cy="169.5" r="3.62" fill="#e4e4e4"/>
<circle cx="274.8" cy="169.8" r="3.62" fill="#e4e4e4"/>
<circle cx="288.9" cy="179.5" r="3.62" fill="#e4e4e4"/>
<circle cx="231.1" cy="192.3" r="3.62" fill="#e4e4e4"/>
<circle cx="219.6" cy="197.1" r="3.62" fill="#e4e4e4"/>
<circle cx="243.0" cy="198.2" r="3.45" fill="#c4e0c4"/>
<circle cx="263.0" cy="199.3" r="3.62" fill="#e4e4e4"/>
<circle cx="293.0" cy="202.9" r="3.62" fill="#e4e4e4"/>
<circle cx="258.0" cy="211.6" r="3.62" fill="#e4e4e4"/>
<circle cx="194.3" cy="218.2" r="3.62" fill="#e4e4e4"/>
<circle cx="233.4" cy="217.3" r="3.45" fill="#e4e4e4"/>
<circle cx="250.7" cy="218.4" r="3.62" fill="#e4e4e4"/>
<circle cx="253.4" cy="221.6" r="3.62" fill="#e4e4e4"/>
<circle cx="240.4" cy="222.9" r="3.62" fill="#e4e4e4"/>
<circle cx="245.4" cy="223.2" r="3.62" fill="#e4e4e4"/>
<circle cx="249.5" cy="229.5" r="3.62" fill="#e4e4e4"/>
<circle cx="305.0" cy="214.4" r="3.62" fill="#ece6b4"/>
<circle cx="303.4" cy="225.5" r="3.62" fill="#e4e4e4"/>
<circle cx="311.8" cy="193.8" r="3.62" fill="#e4e4e4"/>
<circle cx="312.0" cy="197.5" r="3.62" fill="#e4e4e4"/>
<circle cx="307.5" cy="198.0" r="3.62" fill="#c4e0c4"/>
<circle cx="308.7" cy="203.7" r="3.62" fill="#e4e4e4"/>
<circle cx="198.9" cy="238.9" r="3.62" fill="#e4e4e4"/>
<circle cx="203.5" cy="235.3" r="3.62" fill="#e4e4e4"/>
<circle cx="209.8" cy="236.3" r="3.62" fill="#e4e4e4"/>
<circle cx="204.1" cy="241.5" r="3.62" fill="#e4e4e4"/>
<circle cx="205.1" cy="247.8" r="3.62" fill="#a8dca8"/>
<circle cx="200.4" cy="249.9" r="3.62" fill="#e4e4e4"/>
<circle cx="208.2" cy="253.0" r="3.62" fill="#e4e4e4"/>
<circle cx="215.0" cy="245.7" r="3.62" fill="#e4e4e4"/>
<circle cx="216.6" cy="257.2" r="3.62" fill="#e4e4e4"/>
<circle cx="203.5" cy="263.4" r="3.62" fill="#e4e4e4"/>
<circle cx="212.9" cy="272.3" r="3.62" fill="#c4e0c4"/>
<circle cx="213.9" cy="273.3" r="3.62" fill="#c4e0c4"/>
<circle cx="240.5" cy="251.4" r="3.62" fill="#e4e4e4"/>
<circle cx="239.5" cy="259.2" r="3.62" fill="#ece6b4"/>
<circle cx="246.8" cy="268.1" r="3.62" fill="#e4e4e4"/>
<circle cx="250.2" cy="276.4" r="3.62" fill="#e4e4e4"/>
<circle cx="203.0" cy="281.6" r="3.62" fill="#e4e4e4"/>
<circle cx="204.6" cy="286.9" r="3.62" fill="#e4e4e4"/>
<circle cx="219.5" cy="290.3" r="3.62" fill="#e4e4e4"/>
<circle cx="224.6" cy="299.4" r="3.62" fill="#e4e4e4"/>
<circle cx="213.9" cy="303.4" r="3.62" fill="#e4e4e4"/>
<circle cx="207.7" cy="311.2" r="3.62" fill="#e4e4e4"/>
<circle cx="225.4" cy="328.6" r="3.62" fill="#c4e0c4"/>
<circle cx="263.6" cy="247.0" r="3.62" fill="#e4e4e4"/>
<circle cx="313.8" cy="271.2" r="3.62" fill="#e4e4e4"/>
<circle cx="260.5" cy="287.0" r="3.62" fill="#e4e4e4"/>
<circle cx="261.5" cy="288.0" r="3.62" fill="#e4e4e4"/>
<circle cx="271.4" cy="306.4" r="3.62" fill="#88d088"/>
<circle cx="284.8" cy="308.4" r="3.62" fill="#e4e4e4"/>
<circle cx="278.4" cy="318.9" r="3.62" fill="#a8dca8"/>
<circle cx="280.2" cy="316.3" r="3.62" fill="#e4e4e4"/>
<circle cx="256.1" cy="317.1" r="3.62" fill="#88d088"/>
<circle cx="331.6" cy="302.4" r="3.62" fill="#a8dca8"/>
<circle cx="335.4" cy="303.9" r="3.62" fill="#e4e4e4"/>
<circle cx="333.9" cy="312.8" r="3.62" fill="#a8dca8"/>
<circle cx="277.9" cy="337.7" r="3.62" fill="#68c080"/>
<circle cx="289.6" cy="340.9" r="3.62" fill="#e4e4e4"/>
<circle cx="277.9" cy="347.5" r="3.62" fill="#68c080"/>
<circle cx="308.2" cy="337.1" r="3.62" fill="#e4e4e4"/>
<circle cx="336.4" cy="339.1" r="3.62" fill="#a8dca8"/>
<circle cx="341.4" cy="345.4" r="3.62" fill="#88d088"/>
<circle cx="233.4" cy="363.6" r="3.62" fill="#ece6b4"/>
<circle cx="231.4" cy="374.2" r="3.62" fill="#68c080"/>
<circle cx="232.5" cy="386.5" r="3.62" fill="#68c080"/>
<circle cx="231.0" cy="384.0" r="3.62" fill="#c4e0c4"/>
<circle cx="234.6" cy="392.2" r="3.62" fill="#e4e4e4"/>
<circle cx="225.6" cy="402.9" r="3.62" fill="#e4e4e4"/>
<circle cx="230.5" cy="402.5" r="3.62" fill="#a8dca8"/>
<circle cx="287.9" cy="384.0" r="3.62" fill="#a8dca8"/>
<circle cx="290.4" cy="382.5" r="3.62" fill="#88d088"/>
<circle cx="338.2" cy="383.2" r="3.62" fill="#e4e4e4"/>
<circle cx="315.5" cy="405.2" r="3.62" fill="#e4e4e4"/>
<circle cx="312.5" cy="419.2" r="3.62" fill="#c4e0c4"/>
<circle cx="243.9" cy="407.4" r="3.62" fill="#c4e0c4"/>
<circle cx="250.7" cy="416.6" r="3.62" fill="#a8dca8"/>
<circle cx="255.5" cy="418.9" r="3.62" fill="#68c080"/>
<circle cx="261.4" cy="421.9" r="3.62" fill="#a8dca8"/>
<circle cx="272.4" cy="421.9" r="3.62" fill="#c4e0c4"/>
<circle cx="273.3" cy="431.4" r="3.62" fill="#a8dca8"/>
<circle cx="286.7" cy="427.3" r="3.62" fill="#a8dca8"/>
<circle cx="282.3" cy="435.6" r="3.62" fill="#88d088"/>
<circle cx="290.0" cy="434.4" r="3.45" fill="#68c080"/>
<circle cx="304.3" cy="447.1" r="3.62" fill="#68c080"/>
<circle cx="303.1" cy="454.6" r="3.45" fill="#68c080"/>
<circle cx="303.1" cy="460.0" r="3.45" fill="#68c080"/>
<circle cx="312.0" cy="460.6" r="3.62" fill="#68c080"/>
<circle cx="326.0" cy="454.4" r="3.45" fill="#68c080"/>
<circle cx="329.2" cy="455.7" r="3.45" fill="#68c080"/>
<circle cx="332.3" cy="456.9" r="3.45" fill="#68c080"/>
<circle cx="341.1" cy="435.7" r="3.45" fill="#a8dca8"/>
<circle cx="355.4" cy="450.4" r="3.62" fill="#c4e0c4"/>
<circle cx="353.3" cy="464.4" r="3.62" fill="#88d088"/>
<circle cx="374.2" cy="479.2" r="3.45" fill="#48b078"/>
<circle cx="339.0" cy="483.3" r="3.62" fill="#a8dca8"/>
<circle cx="338.4" cy="487.7" r="3.62" fill="#a8dca8"/>
<circle cx="325.6" cy="491.4" r="3.62" fill="#68c080"/>
<circle cx="334.8" cy="503.9" r="3.62" fill="#68c080"/>
<circle cx="331.7" cy="509.6" r="3.62" fill="#48b078"/>
<circle cx="330.1" cy="515.8" r="3.62" fill="#68c080"/>
<circle cx="337.9" cy="513.8" r="3.62" fill="#68c080"/>
<circle cx="345.2" cy="512.9" r="3.62" fill="#68c080"/>
<circle cx="331.7" cy="523.6" r="3.62" fill="#30a070"/>
<circle cx="336.9" cy="523.6" r="3.62" fill="#109090"/>
<circle cx="357.7" cy="524.7" r="3.62" fill="#68c080"/>
<circle cx="391.6" cy="516.8" r="3.62" fill="#88d088"/>
<circle cx="388.4" cy="524.7" r="3.62" fill="#68c080"/>
<circle cx="390.5" cy="530.4" r="3.62" fill="#68c080"/>
<circle cx="422.6" cy="536.4" r="3.62" fill="#a8dca8"/>
<circle cx="477.8" cy="359.2" r="3.62" fill="#ece6b4"/>
<circle cx="507.0" cy="348.2" r="3.62" fill="#88d088"/>
<circle cx="474.5" cy="475.3" r="3.62" fill="#88d088"/>
<circle cx="423.4" cy="395.2" r="3.62" fill="#a8dca8"/>
<circle cx="443.5" cy="390.7" r="3.62" fill="#a8dca8"/>
<circle cx="427.1" cy="378.1" r="3.62" fill="#c4e0c4"/>
<circle cx="427.9" cy="386.2" r="3.62" fill="#c4e0c4"/>
<circle cx="432.3" cy="388.5" r="3.62" fill="#c4e0c4"/>
<circle cx="431.6" cy="373.6" r="3.62" fill="#a8dca8"/>
<circle cx="436.8" cy="377.3" r="3.62" fill="#a8dca8"/>
<circle cx="437.5" cy="386.2" r="3.62" fill="#a8dca8"/>
<circle cx="433.8" cy="381.8" r="3.62" fill="#a8dca8"/>
<circle cx="431.0" cy="378.5" r="3.62" fill="#a8dca8"/>
<circle cx="429.5" cy="382.5" r="3.62" fill="#c4e0c4"/>
<circle cx="432.5" cy="384.5" r="3.62" fill="#a8dca8"/>
<circle cx="433.8" cy="381.8" r="3.62" fill="#a8dca8"/>
<circle cx="433.4" cy="384.4" r="0.9" fill="#000"/>
</g>
<circle cx="472.5" cy="578.4" r="2.6" fill="#000"/>
<text x="483.5" y="582.5" class="s">AQS</text>
<rect x="28.5" y="28.5" width="485" height="564" class="bx"/>
<line x1="44.9" y1="592.5" x2="44.9" y2="599.5" class="k"/>
<text x="44.9" y="619" class="s" text-anchor="middle">-124</text>
<line x1="119.5" y1="592.5" x2="119.5" y2="599.5" class="k"/>
<text x="119.5" y="619" class="s" text-anchor="middle">-122</text>
<line x1="194.9" y1="592.5" x2="194.9" y2="599.5" class="k"/>
<text x="194.9" y="619" class="s" text-anchor="middle">-120</text>
<line x1="270.5" y1="592.5" x2="270.5" y2="599.5" class="k"/>
<text x="270.5" y="619" class="s" text-anchor="middle">-118</text>
<line x1="346.6" y1="592.5" x2="346.6" y2="599.5" class="k"/>
<text x="346.6" y="619" class="s" text-anchor="middle">-116</text>
<line x1="423.3" y1="592.5" x2="423.3" y2="599.5" class="k"/>
<text x="423.3" y="619" class="s" text-anchor="middle">-114</text>
<line x1="499.9" y1="592.5" x2="499.9" y2="599.5" class="k"/>
<text x="499.9" y="619" class="s" text-anchor="middle">-112</text>
<line x1="21.5" y1="576.5" x2="28.5" y2="576.5" class="k"/>
<text transform="translate(12.2,576.5) rotate(-90)" class="s" text-anchor="middle">33</text>
<line x1="21.5" y1="487.5" x2="28.5" y2="487.5" class="k"/>
<text transform="translate(12.2,487.5) rotate(-90)" class="s" text-anchor="middle">35</text>
<line x1="21.5" y1="398.5" x2="28.5" y2="398.5" class="k"/>
<text transform="translate(12.2,398.5) rotate(-90)" class="s" text-anchor="middle">37</text>
<line x1="21.5" y1="309.5" x2="28.5" y2="309.5" class="k"/>
<text transform="translate(12.2,309.5) rotate(-90)" class="s" text-anchor="middle">39</text>
<line x1="21.5" y1="220.6" x2="28.5" y2="220.6" class="k"/>
<text transform="translate(12.2,220.6) rotate(-90)" class="s" text-anchor="middle">41</text>
<line x1="21.5" y1="131.6" x2="28.5" y2="131.6" class="k"/>
<text transform="translate(12.2,131.6) rotate(-90)" class="s" text-anchor="middle">43</text>
<line x1="21.5" y1="42.6" x2="28.5" y2="42.6" class="k"/>
<text transform="translate(12.2,42.6) rotate(-90)" class="s" text-anchor="middle">45</text>
<rect x="545.7" y="56.50" width="7.9" height="11.84" fill="#a02830"/>
<rect x="545.7" y="68.04" width="7.9" height="11.84" fill="#a82830"/>
<rect x="545.7" y="79.58" width="7.9" height="11.84" fill="#c02020"/>
<rect x="545.7" y="91.12" width="7.9" height="11.84" fill="#e01018"/>
<rect x="545.7" y="102.66" width="7.9" height="11.84" fill="#ff0000"/>
<rect x="545.7" y="114.20" width="7.9" height="11.84" fill="#f01c30"/>
<rect x="545.7" y="125.75" width="7.9" height="11.84" fill="#e04060"/>
<rect x="545.7" y="137.29" width="7.9" height="11.84" fill="#d66090"/>
<rect x="545.7" y="148.83" width="7.9" height="11.84" fill="#cc77a0"/>
<rect x="545.7" y="160.37" width="7.9" height="11.84" fill="#d07070"/>
<rect x="545.7" y="171.91" width="7.9" height="11.84" fill="#d46838"/>
<rect x="545.7" y="183.45" width="7.9" height="11.84" fill="#dc6a10"/>
<rect x="545.7" y="194.99" width="7.9" height="11.84" fill="#e07808"/>
<rect x="545.7" y="206.53" width="7.9" height="11.84" fill="#e48a08"/>
<rect x="545.7" y="218.07" width="7.9" height="11.84" fill="#e89a0c"/>
<rect x="545.7" y="229.61" width="7.9" height="11.84" fill="#e8aa18"/>
<rect x="545.7" y="241.15" width="7.9" height="11.84" fill="#e8bc28"/>
<rect x="545.7" y="252.70" width="7.9" height="11.84" fill="#ecd030"/>
<rect x="545.7" y="264.24" width="7.9" height="11.84" fill="#ece048"/>
<rect x="545.7" y="275.78" width="7.9" height="11.84" fill="#ece098"/>
<rect x="545.7" y="287.32" width="7.9" height="11.84" fill="#ece4b0"/>
<rect x="545.7" y="298.86" width="7.9" height="11.84" fill="#e4e4e4"/>
<rect x="545.7" y="310.40" width="7.9" height="11.84" fill="#e4e4e4"/>
<rect x="545.7" y="321.94" width="7.9" height="11.84" fill="#c4e0c4"/>
<rect x="545.7" y="333.48" width="7.9" height="11.84" fill="#a8dca8"/>
<rect x="545.7" y="345.02" width="7.9" height="11.84" fill="#88d088"/>
<rect x="545.7" y="356.56" width="7.9" height="11.84" fill="#68c080"/>
<rect x="545.7" y="368.10" width="7.9" height="11.84" fill="#48b078"/>
<rect x="545.7" y="379.65" width="7.9" height="11.84" fill="#28a070"/>
<rect x="545.7" y="391.19" width="7.9" height="11.84" fill="#149878"/>
<rect x="545.7" y="402.73" width="7.9" height="11.84" fill="#108888"/>
<rect x="545.7" y="414.27" width="7.9" height="11.84" fill="#107898"/>
<rect x="545.7" y="425.81" width="7.9" height="11.84" fill="#1480a8"/>
<rect x="545.7" y="437.35" width="7.9" height="11.84" fill="#1068c8"/>
<rect x="545.7" y="448.89" width="7.9" height="11.84" fill="#0850e0"/>
<rect x="545.7" y="460.43" width="7.9" height="11.84" fill="#0838f8"/>
<rect x="545.7" y="471.97" width="7.9" height="11.84" fill="#2030f8"/>
<rect x="545.7" y="483.51" width="7.9" height="11.84" fill="#5028f0"/>
<rect x="545.7" y="495.05" width="7.9" height="11.84" fill="#7820e8"/>
<rect x="545.7" y="506.60" width="7.9" height="11.84" fill="#8c20d8"/>
<rect x="545.7" y="518.14" width="7.9" height="11.84" fill="#8028b8"/>
<rect x="545.7" y="529.68" width="7.9" height="11.84" fill="#7028a0"/>
<rect x="545.7" y="541.22" width="7.9" height="11.84" fill="#642890"/>
<rect x="545.7" y="552.76" width="7.9" height="11.84" fill="#602888"/>
<rect x="545.5" y="56.5" width="8.1" height="507.8" fill="none" stroke="#a4a8a8" stroke-width="0.9"/>
<line x1="553.6" y1="62.8" x2="553.6" y2="558.5" class="k"/>
<line x1="553.6" y1="62.8" x2="560.9" y2="62.8" class="k"/>
<text x="568.2" y="67.2" class="s">3000</text>
<line x1="553.6" y1="85.4" x2="560.9" y2="85.4" class="k"/>
<text x="568.2" y="89.8" class="s">40</text>
<line x1="553.6" y1="197.6" x2="560.9" y2="197.6" class="k"/>
<text x="568.2" y="202.0" class="s">20</text>
<line x1="553.6" y1="310.5" x2="560.9" y2="310.5" class="k"/>
<text x="568.2" y="314.9" class="s">0</text>
<line x1="553.6" y1="423.3" x2="560.9" y2="423.3" class="k"/>
<text x="568.2" y="427.7" class="s">-20</text>
<line x1="553.6" y1="536.4" x2="560.9" y2="536.4" class="k"/>
<text x="568.2" y="540.8" class="s">-40</text>
<line x1="553.6" y1="558.5" x2="560.9" y2="558.5" class="k"/>
<text x="568.2" y="562.9" class="s">-450</text>
<text x="532.3" y="53.75" class="s">ugm-3</text>
<text x="271" y="640" class="s" text-anchor="middle" xml:space="preserve">Bias Summary: [ min, 25th %, 50th %, 75th %, max ]</text>
<text x="292" y="654.5" class="s" text-anchor="middle" xml:space="preserve">[ -13,   -4.5,   -2,   -0.073,   3.6 ]</text>
</g>
</svg>
</body></html>
